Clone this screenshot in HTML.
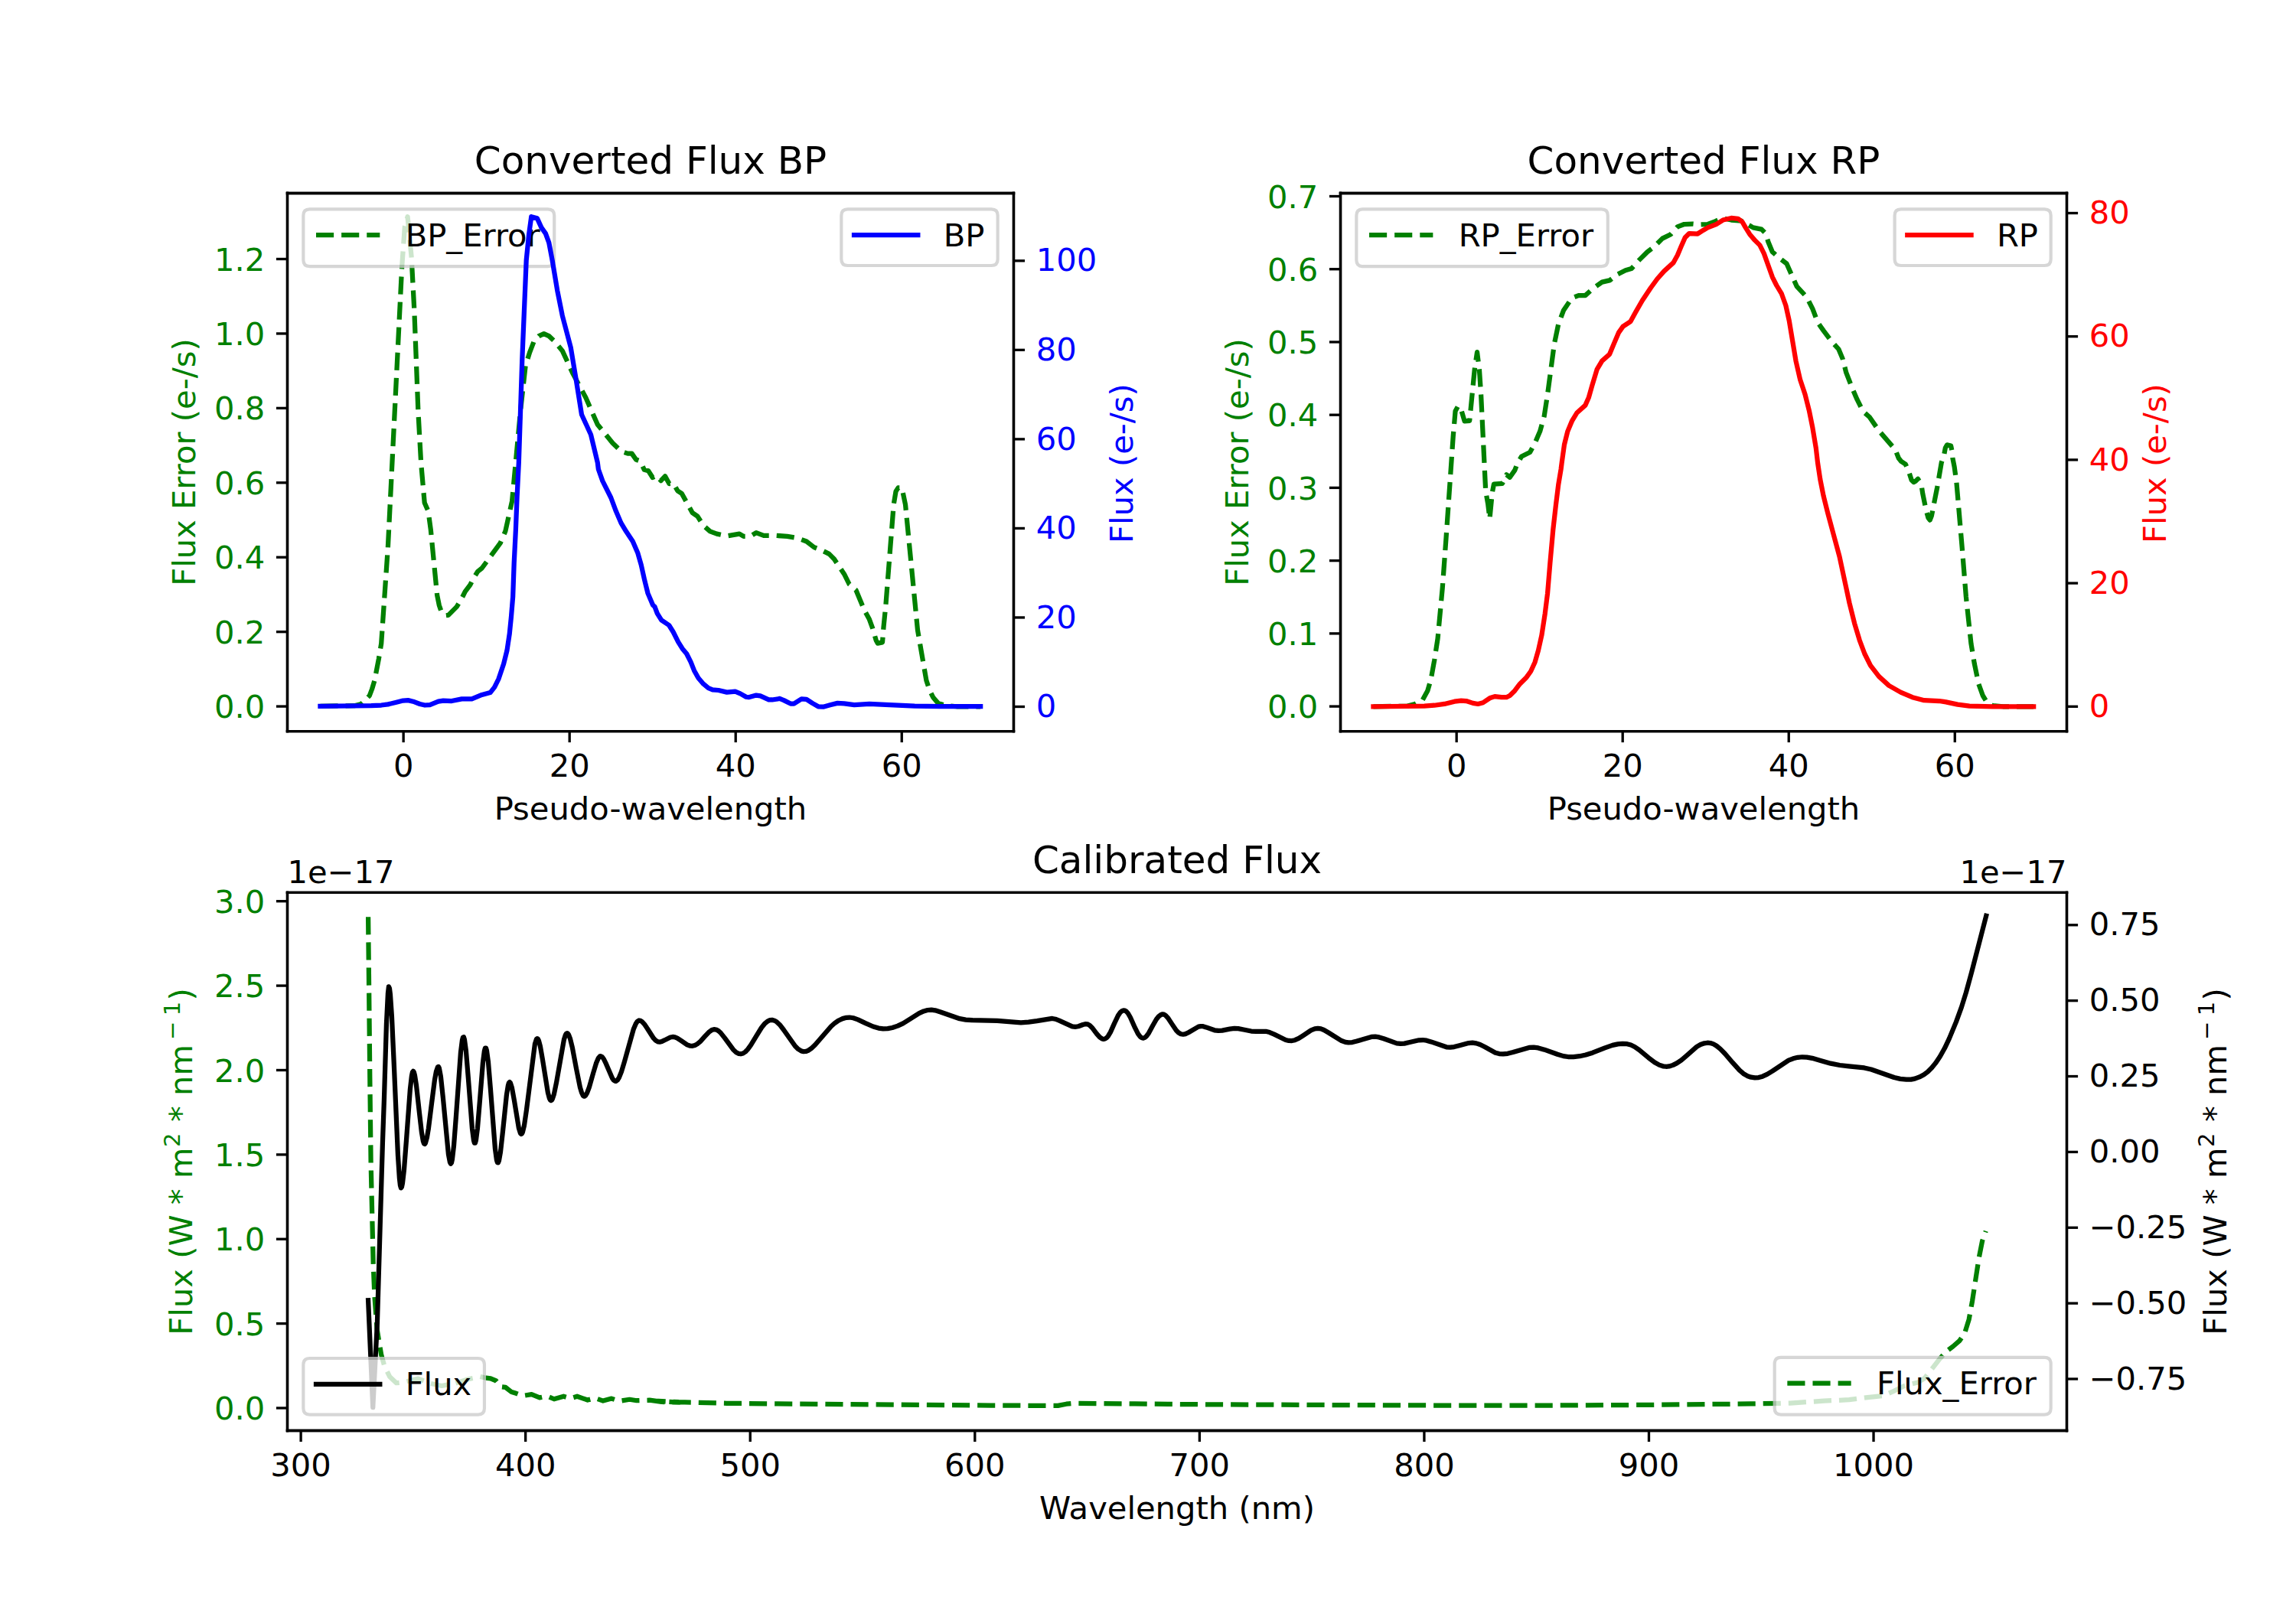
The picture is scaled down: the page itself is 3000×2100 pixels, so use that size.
<!DOCTYPE html>
<html><head><meta charset="utf-8"><title>Flux plots</title>
<style>html,body{margin:0;padding:0;background:#fff}svg{display:block}text{font-family:"DejaVu Sans","Liberation Sans",sans-serif}</style></head>
<body>
<svg width="3000" height="2100" viewBox="0 0 720 504">
 <defs>
  <style type="text/css">*{stroke-linejoin: round; stroke-linecap: butt}</style>
 </defs>
 <g id="figure_1" transform="translate(0.12 0.12)">
  <g id="patch_1">
   <path d="M 0 504 L 720 504 L 720 0 L 0 0 
z " style="fill: #ffffff"/>
  </g>
  <g id="axes_1">
   <g id="patch_2">
    <path d="M 90 229.210435 L 317.755102 229.210435 L 317.755102 60.48 L 90 60.48 
z " style="fill: #ffffff"/>
   </g>
   <g id="matplotlib.axis_1">
    <g id="xtick_1">
     <g id="line2d_1">
      <g>
       <path d="M 0 0 L 0 3.5 " transform="translate(126.396541 229.210435)" style="stroke: #000000; stroke-width: 0.8; stroke: #000000; stroke-width: 0.8"/>
      </g>
     </g>
     <g id="text_1">
      <text style="font-size: 10px; font-family: 'DejaVu Sans', 'Bitstream Vera Sans', 'Computer Modern Sans Serif', 'Lucida Grande', 'Verdana', 'Geneva', 'Lucid', 'Arial', 'Helvetica', 'Avant Garde', sans-serif; text-anchor: middle" x="126.396541" y="243.568872" transform="rotate(-0 126.396541 243.568872)">0</text>
     </g>
    </g>
    <g id="xtick_2">
     <g id="line2d_2">
      <g>
       <path d="M 0 0 L 0 3.5 " transform="translate(178.484615 229.210435)" style="stroke: #000000; stroke-width: 0.8; stroke: #000000; stroke-width: 0.8"/>
      </g>
     </g>
     <g id="text_2">
      <text style="font-size: 10px; font-family: 'DejaVu Sans', 'Bitstream Vera Sans', 'Computer Modern Sans Serif', 'Lucida Grande', 'Verdana', 'Geneva', 'Lucid', 'Arial', 'Helvetica', 'Avant Garde', sans-serif; text-anchor: middle" x="178.484615" y="243.568872" transform="rotate(-0 178.484615 243.568872)">20</text>
     </g>
    </g>
    <g id="xtick_3">
     <g id="line2d_3">
      <g>
       <path d="M 0 0 L 0 3.5 " transform="translate(230.572689 229.210435)" style="stroke: #000000; stroke-width: 0.8; stroke: #000000; stroke-width: 0.8"/>
      </g>
     </g>
     <g id="text_3">
      <text style="font-size: 10px; font-family: 'DejaVu Sans', 'Bitstream Vera Sans', 'Computer Modern Sans Serif', 'Lucida Grande', 'Verdana', 'Geneva', 'Lucid', 'Arial', 'Helvetica', 'Avant Garde', sans-serif; text-anchor: middle" x="230.572689" y="243.568872" transform="rotate(-0 230.572689 243.568872)">40</text>
     </g>
    </g>
    <g id="xtick_4">
     <g id="line2d_4">
      <g>
       <path d="M 0 0 L 0 3.5 " transform="translate(282.660762 229.210435)" style="stroke: #000000; stroke-width: 0.8; stroke: #000000; stroke-width: 0.8"/>
      </g>
     </g>
     <g id="text_4">
      <text style="font-size: 10px; font-family: 'DejaVu Sans', 'Bitstream Vera Sans', 'Computer Modern Sans Serif', 'Lucida Grande', 'Verdana', 'Geneva', 'Lucid', 'Arial', 'Helvetica', 'Avant Garde', sans-serif; text-anchor: middle" x="282.660762" y="243.568872" transform="rotate(-0 282.660762 243.568872)">60</text>
     </g>
    </g>
    <g id="text_5">
     <text style="font-size: 10px; font-family: 'DejaVu Sans', 'Bitstream Vera Sans', 'Computer Modern Sans Serif', 'Lucida Grande', 'Verdana', 'Geneva', 'Lucid', 'Arial', 'Helvetica', 'Avant Garde', sans-serif; text-anchor: middle" x="203.877551" y="257.030997" transform="rotate(-0 203.877551 257.030997)">Pseudo-wavelength</text>
    </g>
   </g>
   <g id="matplotlib.axis_2">
    <g id="ytick_1">
     <g id="line2d_5">
      <g>
       <path d="M 0 0 L -3.5 0 " transform="translate(90 221.424)" style="stroke: #000000; stroke-width: 0.8; stroke: #000000; stroke-width: 0.8"/>
      </g>
     </g>
     <g id="text_6">
      <text style="font-size: 10px; font-family: 'DejaVu Sans', 'Bitstream Vera Sans', 'Computer Modern Sans Serif', 'Lucida Grande', 'Verdana', 'Geneva', 'Lucid', 'Arial', 'Helvetica', 'Avant Garde', sans-serif; text-anchor: end; fill: #008000" x="83" y="225.055219" transform="rotate(-0 83 225.055219)">0.0</text>
     </g>
    </g>
    <g id="ytick_2">
     <g id="line2d_6">
      <g>
       <path d="M 0 0 L -3.5 0 " transform="translate(90 198.04)" style="stroke: #000000; stroke-width: 0.8; stroke: #000000; stroke-width: 0.8"/>
      </g>
     </g>
     <g id="text_7">
      <text style="font-size: 10px; font-family: 'DejaVu Sans', 'Bitstream Vera Sans', 'Computer Modern Sans Serif', 'Lucida Grande', 'Verdana', 'Geneva', 'Lucid', 'Arial', 'Helvetica', 'Avant Garde', sans-serif; text-anchor: end; fill: #008000" x="83" y="201.671219" transform="rotate(-0 83 201.671219)">0.2</text>
     </g>
    </g>
    <g id="ytick_3">
     <g id="line2d_7">
      <g>
       <path d="M 0 0 L -3.5 0 " transform="translate(90 174.656)" style="stroke: #000000; stroke-width: 0.8; stroke: #000000; stroke-width: 0.8"/>
      </g>
     </g>
     <g id="text_8">
      <text style="font-size: 10px; font-family: 'DejaVu Sans', 'Bitstream Vera Sans', 'Computer Modern Sans Serif', 'Lucida Grande', 'Verdana', 'Geneva', 'Lucid', 'Arial', 'Helvetica', 'Avant Garde', sans-serif; text-anchor: end; fill: #008000" x="83" y="178.287219" transform="rotate(-0 83 178.287219)">0.4</text>
     </g>
    </g>
    <g id="ytick_4">
     <g id="line2d_8">
      <g>
       <path d="M 0 0 L -3.5 0 " transform="translate(90 151.272)" style="stroke: #000000; stroke-width: 0.8; stroke: #000000; stroke-width: 0.8"/>
      </g>
     </g>
     <g id="text_9">
      <text style="font-size: 10px; font-family: 'DejaVu Sans', 'Bitstream Vera Sans', 'Computer Modern Sans Serif', 'Lucida Grande', 'Verdana', 'Geneva', 'Lucid', 'Arial', 'Helvetica', 'Avant Garde', sans-serif; text-anchor: end; fill: #008000" x="83" y="154.903219" transform="rotate(-0 83 154.903219)">0.6</text>
     </g>
    </g>
    <g id="ytick_5">
     <g id="line2d_9">
      <g>
       <path d="M 0 0 L -3.5 0 " transform="translate(90 127.888)" style="stroke: #000000; stroke-width: 0.8; stroke: #000000; stroke-width: 0.8"/>
      </g>
     </g>
     <g id="text_10">
      <text style="font-size: 10px; font-family: 'DejaVu Sans', 'Bitstream Vera Sans', 'Computer Modern Sans Serif', 'Lucida Grande', 'Verdana', 'Geneva', 'Lucid', 'Arial', 'Helvetica', 'Avant Garde', sans-serif; text-anchor: end; fill: #008000" x="83" y="131.519219" transform="rotate(-0 83 131.519219)">0.8</text>
     </g>
    </g>
    <g id="ytick_6">
     <g id="line2d_10">
      <g>
       <path d="M 0 0 L -3.5 0 " transform="translate(90 104.504)" style="stroke: #000000; stroke-width: 0.8; stroke: #000000; stroke-width: 0.8"/>
      </g>
     </g>
     <g id="text_11">
      <text style="font-size: 10px; font-family: 'DejaVu Sans', 'Bitstream Vera Sans', 'Computer Modern Sans Serif', 'Lucida Grande', 'Verdana', 'Geneva', 'Lucid', 'Arial', 'Helvetica', 'Avant Garde', sans-serif; text-anchor: end; fill: #008000" x="83" y="108.135219" transform="rotate(-0 83 108.135219)">1.0</text>
     </g>
    </g>
    <g id="ytick_7">
     <g id="line2d_11">
      <g>
       <path d="M 0 0 L -3.5 0 " transform="translate(90 81.12)" style="stroke: #000000; stroke-width: 0.8; stroke: #000000; stroke-width: 0.8"/>
      </g>
     </g>
     <g id="text_12">
      <text style="font-size: 10px; font-family: 'DejaVu Sans', 'Bitstream Vera Sans', 'Computer Modern Sans Serif', 'Lucida Grande', 'Verdana', 'Geneva', 'Lucid', 'Arial', 'Helvetica', 'Avant Garde', sans-serif; text-anchor: end; fill: #008000" x="83" y="84.751219" transform="rotate(-0 83 84.751219)">1.2</text>
     </g>
    </g>
    <g id="text_13">
     <text style="font-size: 10px; font-family: 'DejaVu Sans', 'Bitstream Vera Sans', 'Computer Modern Sans Serif', 'Lucida Grande', 'Verdana', 'Geneva', 'Lucid', 'Arial', 'Helvetica', 'Avant Garde', sans-serif; text-anchor: middle; fill: #008000" x="61.017187" y="144.845217" transform="rotate(-90 61.017187 144.845217)">Flux Error (e-/s)</text>
    </g>
   </g>
   <g id="line2d_12">
    <path d="M 100.305431 221.356896 L 111.031492 221.19916 L 113.134642 220.673373 L 115.763578 218.044436 L 116.552259 215.941287 L 117.34094 213.312351 L 118.655408 206.477115 L 119.444089 201.74503 L 121.547239 171.249366 L 122.861707 144.974021 L 125.911273 83.614642 L 126.805112 70.995746 L 127.69895 67.841022 L 128.908261 80.459918 L 129.802099 97.285112 L 131.01141 128.832351 L 131.905249 144.974021 L 133.009402 157.578895 L 134.166134 160.207832 L 134.954815 165.991492 L 136.952807 186.497198 L 137.583752 189.651921 L 138.267275 191.649913 L 139.686901 192.911803 L 140.475582 192.806645 L 143.104518 190.177709 L 144.68188 187.548772 L 145.733455 185.445623 L 147.310817 183.342474 L 148.362392 181.239325 L 149.67686 179.136175 L 150.991328 178.084601 L 156.774989 170.197791 L 158.352351 166.51728 L 160.4555 157.053108 L 161.769968 143.028608 L 163.084436 128.832351 L 164.661798 114.636093 L 165.976267 110.429795 L 167.290735 107.012177 L 168.868097 105.277079 L 170.445459 104.540977 L 172.022821 105.277079 L 173.600183 106.749283 L 176.229119 109.904007 L 179.383843 116.739242 L 183.590141 124.626052 L 187.270653 133.038649 L 192.002738 138.822309 L 194.088 140.832 L 195.408 141.672 L 196.704 142.104 L 198 142.104 L 199.32 144 L 200.616 144.48 L 201.912 147.192 L 203.208 147.552 L 204.528 149.64 L 205.824 148.968 L 207.12 150.648 L 208.44 149.232 L 209.736 151.584 L 211.032 151.44 L 212.352 153.792 L 213.648 154.632 L 217.030215 160.733619 L 218.607576 161.785194 L 220.447832 164.677024 L 222.550981 166.51728 L 224.654131 167.305961 L 227.808854 167.989484 L 231.752259 167.305961 L 233.066728 168.094642 L 235.169877 168.094642 L 237.010132 166.93791 L 239.376175 167.831748 L 243.056686 167.831748 L 246.737198 168.094642 L 249.891921 168.620429 L 252.783752 169.672004 L 255.149795 171.512259 L 257.778731 172.563834 L 259.88188 173.615408 L 261.459242 175.19277 L 264.613966 179.924856 L 266.191328 183.07958 L 268.294477 184.919836 L 270.923414 191.229283 L 272.500776 194.121114 L 273.552351 197.012944 L 274.603925 200.693455 L 275.129712 201.639872 L 276.601917 201.3244 L 276.969968 196.487157 L 277.653492 189.651921 L 280.124692 158.104683 L 280.808215 154.003542 L 281.544318 152.84681 L 282.70105 152.84681 L 283.805203 158.104683 L 287.64345 197.538731 L 290.377545 213.312351 L 291.429119 216.467074 L 292.480694 218.570224 L 294.058056 220.410479 L 296.686992 221.19916 L 299.841716 221.462054 L 307.360475 221.462054 L 307.360475 221.462054 " clip-path="url(#p5c37833ab2)" style="fill: none; stroke-dasharray: 5.55,2.4; stroke-dashoffset: 0; stroke: #008000; stroke-width: 1.5"/>
   </g>
   <g id="patch_3">
    <path d="M 90 229.210435 L 90 60.48 " style="fill: none; stroke: #000000; stroke-width: 0.8; stroke-linejoin: miter; stroke-linecap: square"/>
   </g>
   <g id="patch_4">
    <path d="M 317.755102 229.210435 L 317.755102 60.48 " style="fill: none; stroke: #000000; stroke-width: 0.8; stroke-linejoin: miter; stroke-linecap: square"/>
   </g>
   <g id="patch_5">
    <path d="M 90 229.210435 L 317.755102 229.210435 " style="fill: none; stroke: #000000; stroke-width: 0.8; stroke-linejoin: miter; stroke-linecap: square"/>
   </g>
   <g id="patch_6">
    <path d="M 90 60.48 L 317.755102 60.48 " style="fill: none; stroke: #000000; stroke-width: 0.8; stroke-linejoin: miter; stroke-linecap: square"/>
   </g>
   <g id="text_14">
    <text style="font-size: 12px; font-family: 'DejaVu Sans', 'Bitstream Vera Sans', 'Computer Modern Sans Serif', 'Lucida Grande', 'Verdana', 'Geneva', 'Lucid', 'Arial', 'Helvetica', 'Avant Garde', sans-serif; text-anchor: middle" x="203.877551" y="54.48" transform="rotate(-0 203.877551 54.48)">Converted Flux BP</text>
   </g>
   <g id="legend_1">
    <g id="patch_7">
     <path d="M 97.000000 83.436250 L 171.692938 83.436250 Q 173.692938 83.436250 173.692938 81.436250 L 173.692938 67.480000 Q 173.692938 65.480000 171.692938 65.480000 L 97.000000 65.480000 Q 95.000000 65.480000 95.000000 67.480000 L 95.000000 81.436250 Q 95.000000 83.436250 97.000000 83.436250 z" style="fill: #ffffff; opacity: 0.8; stroke: #cccccc; stroke-linejoin: miter"/>
    </g>
    <g id="line2d_13">
     <path d="M 99 73.578438 L 109 73.578438 L 119 73.578438 " style="fill: none; stroke-dasharray: 5.55,2.4; stroke-dashoffset: 0; stroke: #008000; stroke-width: 1.5"/>
    </g>
    <g id="text_15">
     <text style="font-size: 10px; font-family: 'DejaVu Sans', 'Bitstream Vera Sans', 'Computer Modern Sans Serif', 'Lucida Grande', 'Verdana', 'Geneva', 'Lucid', 'Arial', 'Helvetica', 'Avant Garde', sans-serif; text-anchor: start" x="127" y="77.078438" transform="rotate(-0 127 77.078438)">BP_Error</text>
    </g>
   </g>
  </g>
  <g id="axes_2">
   <g id="patch_8">
    <path d="M 420.244898 229.210435 L 648 229.210435 L 648 60.48 L 420.244898 60.48 
z " style="fill: #ffffff"/>
   </g>
   <g id="matplotlib.axis_3">
    <g id="xtick_5">
     <g id="line2d_14">
      <g>
       <path d="M 0 0 L 0 3.5 " transform="translate(456.641439 229.210435)" style="stroke: #000000; stroke-width: 0.8; stroke: #000000; stroke-width: 0.8"/>
      </g>
     </g>
     <g id="text_16">
      <text style="font-size: 10px; font-family: 'DejaVu Sans', 'Bitstream Vera Sans', 'Computer Modern Sans Serif', 'Lucida Grande', 'Verdana', 'Geneva', 'Lucid', 'Arial', 'Helvetica', 'Avant Garde', sans-serif; text-anchor: middle" x="456.641439" y="243.568872" transform="rotate(-0 456.641439 243.568872)">0</text>
     </g>
    </g>
    <g id="xtick_6">
     <g id="line2d_15">
      <g>
       <path d="M 0 0 L 0 3.5 " transform="translate(508.729513 229.210435)" style="stroke: #000000; stroke-width: 0.8; stroke: #000000; stroke-width: 0.8"/>
      </g>
     </g>
     <g id="text_17">
      <text style="font-size: 10px; font-family: 'DejaVu Sans', 'Bitstream Vera Sans', 'Computer Modern Sans Serif', 'Lucida Grande', 'Verdana', 'Geneva', 'Lucid', 'Arial', 'Helvetica', 'Avant Garde', sans-serif; text-anchor: middle" x="508.729513" y="243.568872" transform="rotate(-0 508.729513 243.568872)">20</text>
     </g>
    </g>
    <g id="xtick_7">
     <g id="line2d_16">
      <g>
       <path d="M 0 0 L 0 3.5 " transform="translate(560.817587 229.210435)" style="stroke: #000000; stroke-width: 0.8; stroke: #000000; stroke-width: 0.8"/>
      </g>
     </g>
     <g id="text_18">
      <text style="font-size: 10px; font-family: 'DejaVu Sans', 'Bitstream Vera Sans', 'Computer Modern Sans Serif', 'Lucida Grande', 'Verdana', 'Geneva', 'Lucid', 'Arial', 'Helvetica', 'Avant Garde', sans-serif; text-anchor: middle" x="560.817587" y="243.568872" transform="rotate(-0 560.817587 243.568872)">40</text>
     </g>
    </g>
    <g id="xtick_8">
     <g id="line2d_17">
      <g>
       <path d="M 0 0 L 0 3.5 " transform="translate(612.90566 229.210435)" style="stroke: #000000; stroke-width: 0.8; stroke: #000000; stroke-width: 0.8"/>
      </g>
     </g>
     <g id="text_19">
      <text style="font-size: 10px; font-family: 'DejaVu Sans', 'Bitstream Vera Sans', 'Computer Modern Sans Serif', 'Lucida Grande', 'Verdana', 'Geneva', 'Lucid', 'Arial', 'Helvetica', 'Avant Garde', sans-serif; text-anchor: middle" x="612.90566" y="243.568872" transform="rotate(-0 612.90566 243.568872)">60</text>
     </g>
    </g>
    <g id="text_20">
     <text style="font-size: 10px; font-family: 'DejaVu Sans', 'Bitstream Vera Sans', 'Computer Modern Sans Serif', 'Lucida Grande', 'Verdana', 'Geneva', 'Lucid', 'Arial', 'Helvetica', 'Avant Garde', sans-serif; text-anchor: middle" x="534.122449" y="257.030997" transform="rotate(-0 534.122449 257.030997)">Pseudo-wavelength</text>
    </g>
   </g>
   <g id="matplotlib.axis_4">
    <g id="ytick_8">
     <g id="line2d_18">
      <g>
       <path d="M 0 0 L -3.5 0 " transform="translate(420.244898 221.424)" style="stroke: #000000; stroke-width: 0.8; stroke: #000000; stroke-width: 0.8"/>
      </g>
     </g>
     <g id="text_21">
      <text style="font-size: 10px; font-family: 'DejaVu Sans', 'Bitstream Vera Sans', 'Computer Modern Sans Serif', 'Lucida Grande', 'Verdana', 'Geneva', 'Lucid', 'Arial', 'Helvetica', 'Avant Garde', sans-serif; text-anchor: end; fill: #008000" x="413.244898" y="225.055219" transform="rotate(-0 413.244898 225.055219)">0.0</text>
     </g>
    </g>
    <g id="ytick_9">
     <g id="line2d_19">
      <g>
       <path d="M 0 0 L -3.5 0 " transform="translate(420.244898 198.569143)" style="stroke: #000000; stroke-width: 0.8; stroke: #000000; stroke-width: 0.8"/>
      </g>
     </g>
     <g id="text_22">
      <text style="font-size: 10px; font-family: 'DejaVu Sans', 'Bitstream Vera Sans', 'Computer Modern Sans Serif', 'Lucida Grande', 'Verdana', 'Geneva', 'Lucid', 'Arial', 'Helvetica', 'Avant Garde', sans-serif; text-anchor: end; fill: #008000" x="413.244898" y="202.200362" transform="rotate(-0 413.244898 202.200362)">0.1</text>
     </g>
    </g>
    <g id="ytick_10">
     <g id="line2d_20">
      <g>
       <path d="M 0 0 L -3.5 0 " transform="translate(420.244898 175.714286)" style="stroke: #000000; stroke-width: 0.8; stroke: #000000; stroke-width: 0.8"/>
      </g>
     </g>
     <g id="text_23">
      <text style="font-size: 10px; font-family: 'DejaVu Sans', 'Bitstream Vera Sans', 'Computer Modern Sans Serif', 'Lucida Grande', 'Verdana', 'Geneva', 'Lucid', 'Arial', 'Helvetica', 'Avant Garde', sans-serif; text-anchor: end; fill: #008000" x="413.244898" y="179.345504" transform="rotate(-0 413.244898 179.345504)">0.2</text>
     </g>
    </g>
    <g id="ytick_11">
     <g id="line2d_21">
      <g>
       <path d="M 0 0 L -3.5 0 " transform="translate(420.244898 152.859429)" style="stroke: #000000; stroke-width: 0.8; stroke: #000000; stroke-width: 0.8"/>
      </g>
     </g>
     <g id="text_24">
      <text style="font-size: 10px; font-family: 'DejaVu Sans', 'Bitstream Vera Sans', 'Computer Modern Sans Serif', 'Lucida Grande', 'Verdana', 'Geneva', 'Lucid', 'Arial', 'Helvetica', 'Avant Garde', sans-serif; text-anchor: end; fill: #008000" x="413.244898" y="156.490647" transform="rotate(-0 413.244898 156.490647)">0.3</text>
     </g>
    </g>
    <g id="ytick_12">
     <g id="line2d_22">
      <g>
       <path d="M 0 0 L -3.5 0 " transform="translate(420.244898 130.004571)" style="stroke: #000000; stroke-width: 0.8; stroke: #000000; stroke-width: 0.8"/>
      </g>
     </g>
     <g id="text_25">
      <text style="font-size: 10px; font-family: 'DejaVu Sans', 'Bitstream Vera Sans', 'Computer Modern Sans Serif', 'Lucida Grande', 'Verdana', 'Geneva', 'Lucid', 'Arial', 'Helvetica', 'Avant Garde', sans-serif; text-anchor: end; fill: #008000" x="413.244898" y="133.63579" transform="rotate(-0 413.244898 133.63579)">0.4</text>
     </g>
    </g>
    <g id="ytick_13">
     <g id="line2d_23">
      <g>
       <path d="M 0 0 L -3.5 0 " transform="translate(420.244898 107.149714)" style="stroke: #000000; stroke-width: 0.8; stroke: #000000; stroke-width: 0.8"/>
      </g>
     </g>
     <g id="text_26">
      <text style="font-size: 10px; font-family: 'DejaVu Sans', 'Bitstream Vera Sans', 'Computer Modern Sans Serif', 'Lucida Grande', 'Verdana', 'Geneva', 'Lucid', 'Arial', 'Helvetica', 'Avant Garde', sans-serif; text-anchor: end; fill: #008000" x="413.244898" y="110.780933" transform="rotate(-0 413.244898 110.780933)">0.5</text>
     </g>
    </g>
    <g id="ytick_14">
     <g id="line2d_24">
      <g>
       <path d="M 0 0 L -3.5 0 " transform="translate(420.244898 84.294857)" style="stroke: #000000; stroke-width: 0.8; stroke: #000000; stroke-width: 0.8"/>
      </g>
     </g>
     <g id="text_27">
      <text style="font-size: 10px; font-family: 'DejaVu Sans', 'Bitstream Vera Sans', 'Computer Modern Sans Serif', 'Lucida Grande', 'Verdana', 'Geneva', 'Lucid', 'Arial', 'Helvetica', 'Avant Garde', sans-serif; text-anchor: end; fill: #008000" x="413.244898" y="87.926076" transform="rotate(-0 413.244898 87.926076)">0.6</text>
     </g>
    </g>
    <g id="ytick_15">
     <g id="line2d_25">
      <g>
       <path d="M 0 0 L -3.5 0 " transform="translate(420.244898 61.44)" style="stroke: #000000; stroke-width: 0.8; stroke: #000000; stroke-width: 0.8"/>
      </g>
     </g>
     <g id="text_28">
      <text style="font-size: 10px; font-family: 'DejaVu Sans', 'Bitstream Vera Sans', 'Computer Modern Sans Serif', 'Lucida Grande', 'Verdana', 'Geneva', 'Lucid', 'Arial', 'Helvetica', 'Avant Garde', sans-serif; text-anchor: end; fill: #008000" x="413.244898" y="65.071219" transform="rotate(-0 413.244898 65.071219)">0.7</text>
     </g>
    </g>
    <g id="text_29">
     <text style="font-size: 10px; font-family: 'DejaVu Sans', 'Bitstream Vera Sans', 'Computer Modern Sans Serif', 'Lucida Grande', 'Verdana', 'Geneva', 'Lucid', 'Arial', 'Helvetica', 'Avant Garde', sans-serif; text-anchor: middle; fill: #008000" x="391.262085" y="144.845217" transform="rotate(-90 391.262085 144.845217)">Flux Error (e-/s)</text>
    </g>
   </g>
   <g id="line2d_26">
    <path d="M 430.545431 221.462054 L 441.271492 221.304318 L 443.637535 220.673373 L 446.003578 219.358905 L 447.58094 216.467074 L 448.632515 212.786563 L 449.684089 207.002903 L 450.735664 200.167668 L 452.207869 184.394048 L 453.364601 168.620429 L 455.572907 136.71916 L 456.256431 128.832351 L 457.045112 127.360146 L 457.833793 127.517882 L 459.148261 131.987074 L 460.725623 131.829338 L 462.302985 115.687668 L 463.091666 110.324637 L 463.775189 115.687668 L 464.300977 123.574477 L 465.773181 153.898384 L 466.509283 158.104683 L 467.035071 162.573875 L 467.823752 154.424172 L 468.349539 151.690078 L 470.978476 151.532341 L 472.292944 148.745669 L 473.344518 149.586928 L 474.92188 147.326043 L 475.710561 145.222894 L 477.02503 143.028608 L 479.653966 141.71414 L 481.231328 138.822309 L 482.80869 135.141798 L 484.123158 130.409712 L 485.174733 123.574477 L 487.277882 107.800858 L 488.592351 101.49141 L 490.169712 97.285112 L 492.798649 93.341707 L 494.901798 92.553026 L 497.004948 92.553026 L 499.633884 90.186983 L 502.262821 88.346728 L 504.628864 87.82094 L 506.994906 85.980685 L 509.623843 84.666216 L 511.464099 84.140429 L 513.830141 81.511492 L 516.459078 78.882556 L 518.562227 77.305194 L 521.191164 74.676257 L 523.8201 73.361789 L 525.92325 70.995746 L 528.026399 70.207065 L 530.655335 70.101908 L 533.021378 70.312223 L 535.44 70.207065 L 537.543149 69.418384 L 539.909192 68.261652 L 542.801022 68.892597 L 545.955746 69.155491 L 549.636257 71.25864 L 552.265194 71.784427 L 553.579662 73.098895 L 554.368343 75.727832 L 555.682812 78.882556 L 557.785961 80.722812 L 560.152004 82.563067 L 563.306728 89.661196 L 566.461451 93.078813 L 568.301707 96.759325 L 569.879069 100.965623 L 571.719325 103.59456 L 574.085367 106.749283 L 576.45141 109.37822 L 577.765879 112.532944 L 578.817453 116.739242 L 580.657709 121.471328 L 582.235071 125.151839 L 584.075326 128.832351 L 586.137514 130.675028 L 589.093841 134.97514 L 594.200224 140.887794 L 595.275252 143.575364 L 596.081523 144.596641 L 597.425308 145.456663 L 598.365957 147.47234 L 599.306607 150.428667 L 599.978499 151.10056 L 600.516013 150.831803 L 601.322284 150.079283 L 602.397312 151.906831 L 602.800448 154.594401 L 603.875476 159.835162 L 604.547368 162.253975 L 605.084882 162.979619 L 605.622396 161.582083 L 607.369317 152.713102 L 608.713102 144.919149 L 609.519373 142.500336 L 609.922508 140.35028 L 610.460022 139.40963 L 611.669429 139.678387 L 612.072564 141.694065 L 612.206943 143.575364 L 612.744457 146.262934 L 613.416349 151.10056 L 615.16327 171.526092 L 616.411246 187.022985 L 617.988608 201.74503 L 619.040183 208.054477 L 620.354651 214.363925 L 621.669119 218.044436 L 622.983587 220.147586 L 624.823843 221.19916 L 627.978567 221.462054 L 637.600475 221.462054 L 637.600475 221.462054 " clip-path="url(#p409623901d)" style="fill: none; stroke-dasharray: 5.55,2.4; stroke-dashoffset: 0; stroke: #008000; stroke-width: 1.5"/>
   </g>
   <g id="patch_9">
    <path d="M 420.244898 229.210435 L 420.244898 60.48 " style="fill: none; stroke: #000000; stroke-width: 0.8; stroke-linejoin: miter; stroke-linecap: square"/>
   </g>
   <g id="patch_10">
    <path d="M 648 229.210435 L 648 60.48 " style="fill: none; stroke: #000000; stroke-width: 0.8; stroke-linejoin: miter; stroke-linecap: square"/>
   </g>
   <g id="patch_11">
    <path d="M 420.244898 229.210435 L 648 229.210435 " style="fill: none; stroke: #000000; stroke-width: 0.8; stroke-linejoin: miter; stroke-linecap: square"/>
   </g>
   <g id="patch_12">
    <path d="M 420.244898 60.48 L 648 60.48 " style="fill: none; stroke: #000000; stroke-width: 0.8; stroke-linejoin: miter; stroke-linecap: square"/>
   </g>
   <g id="text_30">
    <text style="font-size: 12px; font-family: 'DejaVu Sans', 'Bitstream Vera Sans', 'Computer Modern Sans Serif', 'Lucida Grande', 'Verdana', 'Geneva', 'Lucid', 'Arial', 'Helvetica', 'Avant Garde', sans-serif; text-anchor: middle" x="534.122449" y="54.48" transform="rotate(-0 534.122449 54.48)">Converted Flux RP</text>
   </g>
   <g id="legend_2">
    <g id="patch_13">
     <path d="M 427.244898 83.436250 L 502.073335 83.436250 Q 504.073335 83.436250 504.073335 81.436250 L 504.073335 67.480000 Q 504.073335 65.480000 502.073335 65.480000 L 427.244898 65.480000 Q 425.244898 65.480000 425.244898 67.480000 L 425.244898 81.436250 Q 425.244898 83.436250 427.244898 83.436250 z" style="fill: #ffffff; opacity: 0.8; stroke: #cccccc; stroke-linejoin: miter"/>
    </g>
    <g id="line2d_27">
     <path d="M 429.244898 73.578438 L 439.244898 73.578438 L 449.244898 73.578438 " style="fill: none; stroke-dasharray: 5.55,2.4; stroke-dashoffset: 0; stroke: #008000; stroke-width: 1.5"/>
    </g>
    <g id="text_31">
     <text style="font-size: 10px; font-family: 'DejaVu Sans', 'Bitstream Vera Sans', 'Computer Modern Sans Serif', 'Lucida Grande', 'Verdana', 'Geneva', 'Lucid', 'Arial', 'Helvetica', 'Avant Garde', sans-serif; text-anchor: start" x="457.244898" y="77.078438" transform="rotate(-0 457.244898 77.078438)">RP_Error</text>
    </g>
   </g>
  </g>
  <g id="axes_3">
   <g id="patch_14">
    <path d="M 90 448.56 L 648 448.56 L 648 279.829565 L 90 279.829565 
z " style="fill: #ffffff"/>
   </g>
   <g id="matplotlib.axis_5">
    <g id="xtick_9">
     <g id="line2d_28">
      <g>
       <path d="M 0 0 L 0 3.5 " transform="translate(94.227273 448.56)" style="stroke: #000000; stroke-width: 0.8; stroke: #000000; stroke-width: 0.8"/>
      </g>
     </g>
     <g id="text_32">
      <text style="font-size: 10px; font-family: 'DejaVu Sans', 'Bitstream Vera Sans', 'Computer Modern Sans Serif', 'Lucida Grande', 'Verdana', 'Geneva', 'Lucid', 'Arial', 'Helvetica', 'Avant Garde', sans-serif; text-anchor: middle" x="94.227273" y="462.918437" transform="rotate(-0 94.227273 462.918437)">300</text>
     </g>
    </g>
    <g id="xtick_10">
     <g id="line2d_29">
      <g>
       <path d="M 0 0 L 0 3.5 " transform="translate(164.681818 448.56)" style="stroke: #000000; stroke-width: 0.8; stroke: #000000; stroke-width: 0.8"/>
      </g>
     </g>
     <g id="text_33">
      <text style="font-size: 10px; font-family: 'DejaVu Sans', 'Bitstream Vera Sans', 'Computer Modern Sans Serif', 'Lucida Grande', 'Verdana', 'Geneva', 'Lucid', 'Arial', 'Helvetica', 'Avant Garde', sans-serif; text-anchor: middle" x="164.681818" y="462.918437" transform="rotate(-0 164.681818 462.918437)">400</text>
     </g>
    </g>
    <g id="xtick_11">
     <g id="line2d_30">
      <g>
       <path d="M 0 0 L 0 3.5 " transform="translate(235.136364 448.56)" style="stroke: #000000; stroke-width: 0.8; stroke: #000000; stroke-width: 0.8"/>
      </g>
     </g>
     <g id="text_34">
      <text style="font-size: 10px; font-family: 'DejaVu Sans', 'Bitstream Vera Sans', 'Computer Modern Sans Serif', 'Lucida Grande', 'Verdana', 'Geneva', 'Lucid', 'Arial', 'Helvetica', 'Avant Garde', sans-serif; text-anchor: middle" x="235.136364" y="462.918437" transform="rotate(-0 235.136364 462.918437)">500</text>
     </g>
    </g>
    <g id="xtick_12">
     <g id="line2d_31">
      <g>
       <path d="M 0 0 L 0 3.5 " transform="translate(305.590909 448.56)" style="stroke: #000000; stroke-width: 0.8; stroke: #000000; stroke-width: 0.8"/>
      </g>
     </g>
     <g id="text_35">
      <text style="font-size: 10px; font-family: 'DejaVu Sans', 'Bitstream Vera Sans', 'Computer Modern Sans Serif', 'Lucida Grande', 'Verdana', 'Geneva', 'Lucid', 'Arial', 'Helvetica', 'Avant Garde', sans-serif; text-anchor: middle" x="305.590909" y="462.918437" transform="rotate(-0 305.590909 462.918437)">600</text>
     </g>
    </g>
    <g id="xtick_13">
     <g id="line2d_32">
      <g>
       <path d="M 0 0 L 0 3.5 " transform="translate(376.045455 448.56)" style="stroke: #000000; stroke-width: 0.8; stroke: #000000; stroke-width: 0.8"/>
      </g>
     </g>
     <g id="text_36">
      <text style="font-size: 10px; font-family: 'DejaVu Sans', 'Bitstream Vera Sans', 'Computer Modern Sans Serif', 'Lucida Grande', 'Verdana', 'Geneva', 'Lucid', 'Arial', 'Helvetica', 'Avant Garde', sans-serif; text-anchor: middle" x="376.045455" y="462.918437" transform="rotate(-0 376.045455 462.918437)">700</text>
     </g>
    </g>
    <g id="xtick_14">
     <g id="line2d_33">
      <g>
       <path d="M 0 0 L 0 3.5 " transform="translate(446.5 448.56)" style="stroke: #000000; stroke-width: 0.8; stroke: #000000; stroke-width: 0.8"/>
      </g>
     </g>
     <g id="text_37">
      <text style="font-size: 10px; font-family: 'DejaVu Sans', 'Bitstream Vera Sans', 'Computer Modern Sans Serif', 'Lucida Grande', 'Verdana', 'Geneva', 'Lucid', 'Arial', 'Helvetica', 'Avant Garde', sans-serif; text-anchor: middle" x="446.5" y="462.918437" transform="rotate(-0 446.5 462.918437)">800</text>
     </g>
    </g>
    <g id="xtick_15">
     <g id="line2d_34">
      <g>
       <path d="M 0 0 L 0 3.5 " transform="translate(516.954545 448.56)" style="stroke: #000000; stroke-width: 0.8; stroke: #000000; stroke-width: 0.8"/>
      </g>
     </g>
     <g id="text_38">
      <text style="font-size: 10px; font-family: 'DejaVu Sans', 'Bitstream Vera Sans', 'Computer Modern Sans Serif', 'Lucida Grande', 'Verdana', 'Geneva', 'Lucid', 'Arial', 'Helvetica', 'Avant Garde', sans-serif; text-anchor: middle" x="516.954545" y="462.918437" transform="rotate(-0 516.954545 462.918437)">900</text>
     </g>
    </g>
    <g id="xtick_16">
     <g id="line2d_35">
      <g>
       <path d="M 0 0 L 0 3.5 " transform="translate(587.409091 448.56)" style="stroke: #000000; stroke-width: 0.8; stroke: #000000; stroke-width: 0.8"/>
      </g>
     </g>
     <g id="text_39">
      <text style="font-size: 10px; font-family: 'DejaVu Sans', 'Bitstream Vera Sans', 'Computer Modern Sans Serif', 'Lucida Grande', 'Verdana', 'Geneva', 'Lucid', 'Arial', 'Helvetica', 'Avant Garde', sans-serif; text-anchor: middle" x="587.409091" y="462.918437" transform="rotate(-0 587.409091 462.918437)">1000</text>
     </g>
    </g>
    <g id="text_40">
     <text style="font-size: 10px; font-family: 'DejaVu Sans', 'Bitstream Vera Sans', 'Computer Modern Sans Serif', 'Lucida Grande', 'Verdana', 'Geneva', 'Lucid', 'Arial', 'Helvetica', 'Avant Garde', sans-serif; text-anchor: middle" x="369" y="476.380562" transform="rotate(-0 369 476.380562)">Wavelength (nm)</text>
    </g>
   </g>
   <g id="matplotlib.axis_6">
    <g id="ytick_16">
     <g id="line2d_36">
      <g>
       <path d="M 0 0 L -3.5 0 " transform="translate(90 441.48)" style="stroke: #000000; stroke-width: 0.8; stroke: #000000; stroke-width: 0.8"/>
      </g>
     </g>
     <g id="text_41">
      <text style="font-size: 10px; font-family: 'DejaVu Sans', 'Bitstream Vera Sans', 'Computer Modern Sans Serif', 'Lucida Grande', 'Verdana', 'Geneva', 'Lucid', 'Arial', 'Helvetica', 'Avant Garde', sans-serif; text-anchor: end; fill: #008000" x="83" y="445.111219" transform="rotate(-0 83 445.111219)">0.0</text>
     </g>
    </g>
    <g id="ytick_17">
     <g id="line2d_37">
      <g>
       <path d="M 0 0 L -3.5 0 " transform="translate(90 414.988)" style="stroke: #000000; stroke-width: 0.8; stroke: #000000; stroke-width: 0.8"/>
      </g>
     </g>
     <g id="text_42">
      <text style="font-size: 10px; font-family: 'DejaVu Sans', 'Bitstream Vera Sans', 'Computer Modern Sans Serif', 'Lucida Grande', 'Verdana', 'Geneva', 'Lucid', 'Arial', 'Helvetica', 'Avant Garde', sans-serif; text-anchor: end; fill: #008000" x="83" y="418.619219" transform="rotate(-0 83 418.619219)">0.5</text>
     </g>
    </g>
    <g id="ytick_18">
     <g id="line2d_38">
      <g>
       <path d="M 0 0 L -3.5 0 " transform="translate(90 388.496)" style="stroke: #000000; stroke-width: 0.8; stroke: #000000; stroke-width: 0.8"/>
      </g>
     </g>
     <g id="text_43">
      <text style="font-size: 10px; font-family: 'DejaVu Sans', 'Bitstream Vera Sans', 'Computer Modern Sans Serif', 'Lucida Grande', 'Verdana', 'Geneva', 'Lucid', 'Arial', 'Helvetica', 'Avant Garde', sans-serif; text-anchor: end; fill: #008000" x="83" y="392.127219" transform="rotate(-0 83 392.127219)">1.0</text>
     </g>
    </g>
    <g id="ytick_19">
     <g id="line2d_39">
      <g>
       <path d="M 0 0 L -3.5 0 " transform="translate(90 362.004)" style="stroke: #000000; stroke-width: 0.8; stroke: #000000; stroke-width: 0.8"/>
      </g>
     </g>
     <g id="text_44">
      <text style="font-size: 10px; font-family: 'DejaVu Sans', 'Bitstream Vera Sans', 'Computer Modern Sans Serif', 'Lucida Grande', 'Verdana', 'Geneva', 'Lucid', 'Arial', 'Helvetica', 'Avant Garde', sans-serif; text-anchor: end; fill: #008000" x="83" y="365.635219" transform="rotate(-0 83 365.635219)">1.5</text>
     </g>
    </g>
    <g id="ytick_20">
     <g id="line2d_40">
      <g>
       <path d="M 0 0 L -3.5 0 " transform="translate(90 335.512)" style="stroke: #000000; stroke-width: 0.8; stroke: #000000; stroke-width: 0.8"/>
      </g>
     </g>
     <g id="text_45">
      <text style="font-size: 10px; font-family: 'DejaVu Sans', 'Bitstream Vera Sans', 'Computer Modern Sans Serif', 'Lucida Grande', 'Verdana', 'Geneva', 'Lucid', 'Arial', 'Helvetica', 'Avant Garde', sans-serif; text-anchor: end; fill: #008000" x="83" y="339.143219" transform="rotate(-0 83 339.143219)">2.0</text>
     </g>
    </g>
    <g id="ytick_21">
     <g id="line2d_41">
      <g>
       <path d="M 0 0 L -3.5 0 " transform="translate(90 309.02)" style="stroke: #000000; stroke-width: 0.8; stroke: #000000; stroke-width: 0.8"/>
      </g>
     </g>
     <g id="text_46">
      <text style="font-size: 10px; font-family: 'DejaVu Sans', 'Bitstream Vera Sans', 'Computer Modern Sans Serif', 'Lucida Grande', 'Verdana', 'Geneva', 'Lucid', 'Arial', 'Helvetica', 'Avant Garde', sans-serif; text-anchor: end; fill: #008000" x="83" y="312.651219" transform="rotate(-0 83 312.651219)">2.5</text>
     </g>
    </g>
    <g id="ytick_22">
     <g id="line2d_42">
      <g>
       <path d="M 0 0 L -3.5 0 " transform="translate(90 282.528)" style="stroke: #000000; stroke-width: 0.8; stroke: #000000; stroke-width: 0.8"/>
      </g>
     </g>
     <g id="text_47">
      <text style="font-size: 10px; font-family: 'DejaVu Sans', 'Bitstream Vera Sans', 'Computer Modern Sans Serif', 'Lucida Grande', 'Verdana', 'Geneva', 'Lucid', 'Arial', 'Helvetica', 'Avant Garde', sans-serif; text-anchor: end; fill: #008000" x="83" y="286.159219" transform="rotate(-0 83 286.159219)">3.0</text>
     </g>
    </g>
    <g id="text_48">
     <g style="fill: #008000" transform="translate(61.017187 418.594783) rotate(-90)">
      <text style="white-space: pre; font-kerning: none"><tspan x="0" y="-0.976562" style="font-size: 10px; font-family: 'DejaVu Sans'; fill: #008000">Flux (W * m</tspan><tspan x="58.948242" y="-4.804688" style="font-size: 7px; font-family: 'DejaVu Sans'; fill: #008000">2</tspan><tspan x="63.675293" y="-0.976562" style="font-size: 10px; font-family: 'DejaVu Sans'; fill: #008000"> * nm</tspan><tspan x="92.571289" y="-4.804688" style="font-size: 7px; font-family: 'DejaVu Sans'; fill: #008000">−</tspan><tspan x="100.169434" y="-4.804688" style="font-size: 7px; font-family: 'DejaVu Sans'; fill: #008000">1</tspan><tspan x="104.896484" y="-0.976562" style="font-size: 10px; font-family: 'DejaVu Sans'; fill: #008000">)</tspan></text>
     </g>
    </g>
    <g id="text_49">
     <text style="font-size: 10px; font-family: 'DejaVu Sans', 'Bitstream Vera Sans', 'Computer Modern Sans Serif', 'Lucida Grande', 'Verdana', 'Geneva', 'Lucid', 'Arial', 'Helvetica', 'Avant Garde', sans-serif; text-anchor: start" x="90" y="276.829565" transform="rotate(-0 90 276.829565)">1e−17</text>
    </g>
   </g>
   <g id="line2d_43">
    <path d="M 115.342948 287.463916 L 115.605842 311.387239 L 115.868736 337.676604 L 116.184208 364.32 L 116.552259 380.093619 L 116.92031 395.867239 L 117.34094 406.382985 L 118.129621 416.898731 L 119.444089 424.785541 L 120.495664 428.466052 L 122.073026 431.620776 L 124.176175 433.618768 L 126.805112 433.303295 L 131.01141 432.251721 L 134.691921 433.723925 L 138.372433 434.512606 L 142.578731 433.723925 L 146.78503 432.409457 L 150.465541 431.620776 L 151.839721 431.949826 L 153.721254 432.200697 L 155.445993 432.95331 L 157.013937 434.834843 L 158.425087 434.991638 L 160.30662 436.465505 L 161.71777 436.873171 L 163.756098 437.657143 L 166.578397 437.18676 L 169.087108 438.221603 L 171.439024 437.719861 L 173.634146 438.660627 L 176.61324 437.813937 L 178.808362 438.441115 L 180.84669 437.813937 L 184.139373 438.974216 L 186.491289 438.347038 L 189 439.225087 L 191.665505 438.503833 L 194.017422 439.287805 L 197.310105 438.786063 L 199.505226 439.13101 L 203.581882 439.005575 L 207.344948 439.538676 L 212.989547 439.726829 L 205.2 439.233449 L 212.726132 439.609756 L 227.778397 439.986063 L 250.356794 440.211847 L 280.461324 440.437631 L 310.565854 440.663415 L 331.639024 440.738676 L 334.273171 440.211847 L 336.907317 439.986063 L 355.722648 440.136585 L 378 440.362369 L 415.630662 440.512892 L 453.261324 440.663415 L 483.365854 440.663415 L 513.470383 440.512892 L 536.04878 440.287108 L 550.8 440.136585 L 561.315746 439.928215 L 571.831492 439.244692 L 579.718302 438.876641 L 584.976175 438.193117 L 590.234048 437.66733 L 593.91456 436.089968 L 597.069283 434.512606 L 601.275582 433.461031 L 603.378731 432.146563 L 605.48188 429.517627 L 608.110817 426.100009 L 610.213966 423.733966 L 612.317115 422.156604 L 614.420265 420.316349 L 615.997627 417.950306 L 617.312095 413.744007 L 618.36367 407.960347 L 619.415244 401.125112 L 620.466819 394.289877 L 621.518393 389.032004 L 622.622547 385.982437 " clip-path="url(#p4f93501b39)" style="fill: none; stroke-dasharray: 5.55,2.4; stroke-dashoffset: 0; stroke: #008000; stroke-width: 1.5"/>
   </g>
   <g id="patch_15">
    <path d="M 90 448.56 L 90 279.829565 " style="fill: none; stroke: #000000; stroke-width: 0.8; stroke-linejoin: miter; stroke-linecap: square"/>
   </g>
   <g id="patch_16">
    <path d="M 648 448.56 L 648 279.829565 " style="fill: none; stroke: #000000; stroke-width: 0.8; stroke-linejoin: miter; stroke-linecap: square"/>
   </g>
   <g id="patch_17">
    <path d="M 90 448.56 L 648 448.56 " style="fill: none; stroke: #000000; stroke-width: 0.8; stroke-linejoin: miter; stroke-linecap: square"/>
   </g>
   <g id="patch_18">
    <path d="M 90 279.829565 L 648 279.829565 " style="fill: none; stroke: #000000; stroke-width: 0.8; stroke-linejoin: miter; stroke-linecap: square"/>
   </g>
   <g id="text_50">
    <text style="font-size: 12px; font-family: 'DejaVu Sans', 'Bitstream Vera Sans', 'Computer Modern Sans Serif', 'Lucida Grande', 'Verdana', 'Geneva', 'Lucid', 'Arial', 'Helvetica', 'Avant Garde', sans-serif; text-anchor: middle" x="369" y="273.829565" transform="rotate(-0 369 273.829565)">Calibrated Flux</text>
   </g>
   <g id="legend_3" transform="translate(-0.4800 0)">
    <g id="patch_19">
     <path d="M 558.843750 443.560000 L 641.480000 443.560000 Q 643.480000 443.560000 643.480000 441.560000 L 643.480000 427.603750 Q 643.480000 425.603750 641.480000 425.603750 L 558.843750 425.603750 Q 556.843750 425.603750 556.843750 427.603750 L 556.843750 441.560000 Q 556.843750 443.560000 558.843750 443.560000 z" style="fill: #ffffff; opacity: 0.8; stroke: #cccccc; stroke-linejoin: miter"/>
    </g>
    <g id="line2d_44">
     <path d="M 560.84375 433.702188 L 570.84375 433.702188 L 580.84375 433.702188 " style="fill: none; stroke-dasharray: 5.55,2.4; stroke-dashoffset: 0; stroke: #008000; stroke-width: 1.5"/>
    </g>
    <g id="text_51">
     <text style="font-size: 10px; font-family: 'DejaVu Sans', 'Bitstream Vera Sans', 'Computer Modern Sans Serif', 'Lucida Grande', 'Verdana', 'Geneva', 'Lucid', 'Arial', 'Helvetica', 'Avant Garde', sans-serif; text-anchor: start" x="588.84375" y="437.202188" transform="rotate(-0 588.84375 437.202188)">Flux_Error</text>
    </g>
   </g>
  </g>
  <g id="axes_4">
   <g id="matplotlib.axis_7">
    <g id="ytick_23">
     <g id="line2d_45">
      <g>
       <path d="M 0 0 L 3.5 0 " transform="translate(317.755102 221.52)" style="stroke: #000000; stroke-width: 0.8; stroke: #000000; stroke-width: 0.8"/>
      </g>
     </g>
     <g id="text_52">
      <text style="font-size: 10px; font-family: 'DejaVu Sans', 'Bitstream Vera Sans', 'Computer Modern Sans Serif', 'Lucida Grande', 'Verdana', 'Geneva', 'Lucid', 'Arial', 'Helvetica', 'Avant Garde', sans-serif; text-anchor: start; fill: #0000ff" x="324.755102" y="224.791219" transform="rotate(-0 324.755102 224.791219)">0</text>
     </g>
    </g>
    <g id="ytick_24">
     <g id="line2d_46">
      <g>
       <path d="M 0 0 L 3.5 0 " transform="translate(317.755102 193.5504)" style="stroke: #000000; stroke-width: 0.8; stroke: #000000; stroke-width: 0.8"/>
      </g>
     </g>
     <g id="text_53">
      <text style="font-size: 10px; font-family: 'DejaVu Sans', 'Bitstream Vera Sans', 'Computer Modern Sans Serif', 'Lucida Grande', 'Verdana', 'Geneva', 'Lucid', 'Arial', 'Helvetica', 'Avant Garde', sans-serif; text-anchor: start; fill: #0000ff" x="324.755102" y="196.821619" transform="rotate(-0 324.755102 196.821619)">20</text>
     </g>
    </g>
    <g id="ytick_25">
     <g id="line2d_47">
      <g>
       <path d="M 0 0 L 3.5 0 " transform="translate(317.755102 165.5808)" style="stroke: #000000; stroke-width: 0.8; stroke: #000000; stroke-width: 0.8"/>
      </g>
     </g>
     <g id="text_54">
      <text style="font-size: 10px; font-family: 'DejaVu Sans', 'Bitstream Vera Sans', 'Computer Modern Sans Serif', 'Lucida Grande', 'Verdana', 'Geneva', 'Lucid', 'Arial', 'Helvetica', 'Avant Garde', sans-serif; text-anchor: start; fill: #0000ff" x="324.755102" y="168.852019" transform="rotate(-0 324.755102 168.852019)">40</text>
     </g>
    </g>
    <g id="ytick_26">
     <g id="line2d_48">
      <g>
       <path d="M 0 0 L 3.5 0 " transform="translate(317.755102 137.6112)" style="stroke: #000000; stroke-width: 0.8; stroke: #000000; stroke-width: 0.8"/>
      </g>
     </g>
     <g id="text_55">
      <text style="font-size: 10px; font-family: 'DejaVu Sans', 'Bitstream Vera Sans', 'Computer Modern Sans Serif', 'Lucida Grande', 'Verdana', 'Geneva', 'Lucid', 'Arial', 'Helvetica', 'Avant Garde', sans-serif; text-anchor: start; fill: #0000ff" x="324.755102" y="140.882419" transform="rotate(-0 324.755102 140.882419)">60</text>
     </g>
    </g>
    <g id="ytick_27">
     <g id="line2d_49">
      <g>
       <path d="M 0 0 L 3.5 0 " transform="translate(317.755102 109.6416)" style="stroke: #000000; stroke-width: 0.8; stroke: #000000; stroke-width: 0.8"/>
      </g>
     </g>
     <g id="text_56">
      <text style="font-size: 10px; font-family: 'DejaVu Sans', 'Bitstream Vera Sans', 'Computer Modern Sans Serif', 'Lucida Grande', 'Verdana', 'Geneva', 'Lucid', 'Arial', 'Helvetica', 'Avant Garde', sans-serif; text-anchor: start; fill: #0000ff" x="324.755102" y="112.912819" transform="rotate(-0 324.755102 112.912819)">80</text>
     </g>
    </g>
    <g id="ytick_28">
     <g id="line2d_50">
      <g>
       <path d="M 0 0 L 3.5 0 " transform="translate(317.755102 81.672)" style="stroke: #000000; stroke-width: 0.8; stroke: #000000; stroke-width: 0.8"/>
      </g>
     </g>
     <g id="text_57">
      <text style="font-size: 10px; font-family: 'DejaVu Sans', 'Bitstream Vera Sans', 'Computer Modern Sans Serif', 'Lucida Grande', 'Verdana', 'Geneva', 'Lucid', 'Arial', 'Helvetica', 'Avant Garde', sans-serif; text-anchor: start; fill: #0000ff" x="324.755102" y="84.943219" transform="rotate(-0 324.755102 84.943219)">100</text>
     </g>
    </g>
    <g id="text_58">
     <text style="font-size: 10px; font-family: 'DejaVu Sans', 'Bitstream Vera Sans', 'Computer Modern Sans Serif', 'Lucida Grande', 'Verdana', 'Geneva', 'Lucid', 'Arial', 'Helvetica', 'Avant Garde', sans-serif; text-anchor: middle; fill: #0000ff" x="355.20104" y="145.205217" transform="rotate(-90 355.20104 145.205217)">Flux (e-/s)</text>
    </g>
   </g>
   <g id="line2d_51">
    <path d="M 100.305431 221.356896 L 116.289366 221.19916 L 119.444089 221.041424 L 121.547239 220.77853 L 124.176175 220.147586 L 126.279325 219.621798 L 127.856686 219.516641 L 129.434048 219.884692 L 131.537198 220.673373 L 133.11456 221.041424 L 134.691921 220.936267 L 137.320858 219.884692 L 138.89822 219.621798 L 141.527157 219.726956 L 144.68188 219.096011 L 147.836604 219.096011 L 150.991328 217.781543 L 153.620265 217.098019 L 154.934733 215.4155 L 156.249201 212.786563 L 157.826563 208.054477 L 158.878138 203.848179 L 159.666819 198.590306 L 160.192606 193.332433 L 160.718393 187.022985 L 161.086445 176.507239 L 161.612232 165.991492 L 162.032862 155.475746 L 162.558649 144.96 L 163.610224 113.058731 L 164.924692 81.511492 L 165.713373 73.624683 L 166.502054 67.841022 L 168.342309 68.36681 L 169.656778 71.25864 L 170.971246 73.098895 L 172.022821 75.990726 L 173.074395 81.511492 L 174.651757 90.975664 L 176.229119 98.862474 L 178.858056 108.852433 L 180.435418 118.316604 L 182.275673 129.883925 L 185.167503 136.193373 L 187.270653 144.974021 L 187.533546 147.063149 L 188.848015 150.74366 L 191.476951 156.001534 L 193.054313 160.207832 L 194.631675 163.888343 L 196.209037 166.51728 L 198.312186 169.672004 L 199.889548 173.352515 L 200.941123 177.033026 L 201.992697 181.765112 L 203.044272 185.97141 L 204.621634 189.651921 L 205.2 190.177709 L 205.988681 192.280858 L 207.303149 194.384007 L 209.669192 195.961369 L 210.98366 198.064518 L 212.561022 201.219242 L 213.875491 203.322392 L 215.189959 204.899754 L 216.504427 207.52869 L 217.556002 210.157627 L 218.87047 212.52367 L 220.447832 214.363925 L 222.025194 215.678393 L 223.339662 216.204181 L 225.179918 216.361917 L 227.808854 216.992862 L 230.437791 216.729968 L 232.015153 217.413492 L 233.855408 218.465066 L 234.644089 218.570224 L 237.010132 217.939279 L 238.324601 218.149594 L 240.953537 219.306326 L 242.005112 219.358905 L 244.371155 218.990853 L 245.685623 219.516641 L 247.788772 220.568215 L 248.840347 220.568215 L 251.20639 219.096011 L 252.783752 219.201168 L 254.624007 220.410479 L 256.464263 221.462054 L 258.041625 221.567211 L 260.407668 220.936267 L 262.510817 220.410479 L 264.613966 220.515637 L 267.76869 220.936267 L 272.500776 220.673373 L 278.810224 220.936267 L 286.697033 221.304318 L 294.583843 221.409475 L 307.360475 221.409475 " clip-path="url(#p5c37833ab2)" style="fill: none; stroke: #0000ff; stroke-width: 1.5; stroke-linecap: square"/>
   </g>
   <g id="patch_20">
    <path d="M 90 229.210435 L 90 60.48 " style="fill: none; stroke: #000000; stroke-width: 0.8; stroke-linejoin: miter; stroke-linecap: square"/>
   </g>
   <g id="patch_21">
    <path d="M 317.755102 229.210435 L 317.755102 60.48 " style="fill: none; stroke: #000000; stroke-width: 0.8; stroke-linejoin: miter; stroke-linecap: square"/>
   </g>
   <g id="patch_22">
    <path d="M 90 229.210435 L 317.755102 229.210435 " style="fill: none; stroke: #000000; stroke-width: 0.8; stroke-linejoin: miter; stroke-linecap: square"/>
   </g>
   <g id="patch_23">
    <path d="M 90 60.48 L 317.755102 60.48 " style="fill: none; stroke: #000000; stroke-width: 0.8; stroke-linejoin: miter; stroke-linecap: square"/>
   </g>
   <g id="legend_4" transform="translate(-0.1440 0)">
    <g id="patch_24">
     <path d="M 265.864477 83.158125 L 310.899102 83.158125 Q 312.899102 83.158125 312.899102 81.158125 L 312.899102 67.480000 Q 312.899102 65.480000 310.899102 65.480000 L 265.864477 65.480000 Q 263.864477 65.480000 263.864477 67.480000 L 263.864477 81.158125 Q 263.864477 83.158125 265.864477 83.158125 z" style="fill: #ffffff; opacity: 0.8; stroke: #cccccc; stroke-linejoin: miter"/>
    </g>
    <g id="line2d_52">
     <path d="M 267.864477 73.578438 L 277.864477 73.578438 L 287.864477 73.578438 " style="fill: none; stroke: #0000ff; stroke-width: 1.5; stroke-linecap: square"/>
    </g>
    <g id="text_59">
     <text style="font-size: 10px; font-family: 'DejaVu Sans', 'Bitstream Vera Sans', 'Computer Modern Sans Serif', 'Lucida Grande', 'Verdana', 'Geneva', 'Lucid', 'Arial', 'Helvetica', 'Avant Garde', sans-serif; text-anchor: start" x="295.864477" y="77.078438" transform="rotate(-0 295.864477 77.078438)">BP</text>
    </g>
   </g>
  </g>
  <g id="axes_5">
   <g id="matplotlib.axis_8">
    <g id="ytick_29">
     <g id="line2d_53">
      <g>
       <path d="M 0 0 L 3.5 0 " transform="translate(648 221.472)" style="stroke: #000000; stroke-width: 0.8; stroke: #000000; stroke-width: 0.8"/>
      </g>
     </g>
     <g id="text_60">
      <text style="font-size: 10px; font-family: 'DejaVu Sans', 'Bitstream Vera Sans', 'Computer Modern Sans Serif', 'Lucida Grande', 'Verdana', 'Geneva', 'Lucid', 'Arial', 'Helvetica', 'Avant Garde', sans-serif; text-anchor: start; fill: #ff0000" x="655" y="224.743219" transform="rotate(-0 655 224.743219)">0</text>
     </g>
    </g>
    <g id="ytick_30">
     <g id="line2d_54">
      <g>
       <path d="M 0 0 L 3.5 0 " transform="translate(648 182.784)" style="stroke: #000000; stroke-width: 0.8; stroke: #000000; stroke-width: 0.8"/>
      </g>
     </g>
     <g id="text_61">
      <text style="font-size: 10px; font-family: 'DejaVu Sans', 'Bitstream Vera Sans', 'Computer Modern Sans Serif', 'Lucida Grande', 'Verdana', 'Geneva', 'Lucid', 'Arial', 'Helvetica', 'Avant Garde', sans-serif; text-anchor: start; fill: #ff0000" x="655" y="186.055219" transform="rotate(-0 655 186.055219)">20</text>
     </g>
    </g>
    <g id="ytick_31">
     <g id="line2d_55">
      <g>
       <path d="M 0 0 L 3.5 0 " transform="translate(648 144.096)" style="stroke: #000000; stroke-width: 0.8; stroke: #000000; stroke-width: 0.8"/>
      </g>
     </g>
     <g id="text_62">
      <text style="font-size: 10px; font-family: 'DejaVu Sans', 'Bitstream Vera Sans', 'Computer Modern Sans Serif', 'Lucida Grande', 'Verdana', 'Geneva', 'Lucid', 'Arial', 'Helvetica', 'Avant Garde', sans-serif; text-anchor: start; fill: #ff0000" x="655" y="147.367219" transform="rotate(-0 655 147.367219)">40</text>
     </g>
    </g>
    <g id="ytick_32">
     <g id="line2d_56">
      <g>
       <path d="M 0 0 L 3.5 0 " transform="translate(648 105.408)" style="stroke: #000000; stroke-width: 0.8; stroke: #000000; stroke-width: 0.8"/>
      </g>
     </g>
     <g id="text_63">
      <text style="font-size: 10px; font-family: 'DejaVu Sans', 'Bitstream Vera Sans', 'Computer Modern Sans Serif', 'Lucida Grande', 'Verdana', 'Geneva', 'Lucid', 'Arial', 'Helvetica', 'Avant Garde', sans-serif; text-anchor: start; fill: #ff0000" x="655" y="108.679219" transform="rotate(-0 655 108.679219)">60</text>
     </g>
    </g>
    <g id="ytick_33">
     <g id="line2d_57">
      <g>
       <path d="M 0 0 L 3.5 0 " transform="translate(648 66.72)" style="stroke: #000000; stroke-width: 0.8; stroke: #000000; stroke-width: 0.8"/>
      </g>
     </g>
     <g id="text_64">
      <text style="font-size: 10px; font-family: 'DejaVu Sans', 'Bitstream Vera Sans', 'Computer Modern Sans Serif', 'Lucida Grande', 'Verdana', 'Geneva', 'Lucid', 'Arial', 'Helvetica', 'Avant Garde', sans-serif; text-anchor: start; fill: #ff0000" x="655" y="69.991219" transform="rotate(-0 655 69.991219)">80</text>
     </g>
    </g>
    <g id="text_65">
     <text style="font-size: 10px; font-family: 'DejaVu Sans', 'Bitstream Vera Sans', 'Computer Modern Sans Serif', 'Lucida Grande', 'Verdana', 'Geneva', 'Lucid', 'Arial', 'Helvetica', 'Avant Garde', sans-serif; text-anchor: middle; fill: #ff0000" x="679.083437" y="145.205217" transform="rotate(-90 679.083437 145.205217)">Flux (e-/s)</text>
    </g>
   </g>
   <g id="line2d_58">
    <path d="M 430.545431 221.462054 L 446.529366 221.304318 L 449.684089 221.094003 L 452.838813 220.673373 L 455.993537 219.884692 L 458.096686 219.621798 L 459.674048 219.726956 L 461.777198 220.410479 L 463.35456 220.673373 L 464.931921 220.252743 L 467.035071 218.833117 L 468.612433 218.30733 L 470.715582 218.570224 L 472.292944 218.570224 L 473.344518 218.044436 L 474.92188 216.467074 L 476.499242 214.363925 L 478.602392 212.260776 L 479.91686 210.42052 L 481.231328 207.52869 L 482.282903 203.848179 L 483.334477 199.116093 L 484.386052 192.280858 L 485.174733 185.97141 L 485.963414 176.507239 L 486.909831 165.991492 L 487.80367 158.104683 L 488.592351 151.795235 L 489.381031 147.063149 L 489.643925 144.974021 L 490.432606 139.348097 L 491.484181 135.141798 L 492.798649 131.987074 L 494.376011 129.358138 L 497.004948 126.992095 L 498.056522 124.626052 L 499.108097 120.945541 L 500.685459 115.687668 L 502.262821 113.058731 L 504.628864 110.955582 L 505.943332 107.800858 L 507.520694 104.120347 L 508.835162 102.280091 L 511.201205 100.702729 L 512.778567 97.810899 L 514.881716 94.130388 L 517.510653 90.186983 L 519.613802 87.295153 L 521.716951 84.92911 L 524.608781 82.300173 L 525.92325 79.934131 L 527.237718 76.779407 L 528.289293 74.413364 L 529.603761 73.098895 L 532.232697 73.204053 L 534.072953 72.047321 L 535.44 71.25864 L 538.068937 70.207065 L 540.172086 68.892597 L 542.801022 68.261652 L 544.904172 68.471967 L 546.21864 69.418384 L 547.270215 71.25864 L 548.584683 73.361789 L 550.162045 75.202045 L 551.739407 76.779407 L 553.053875 79.408343 L 554.368343 83.088854 L 555.682812 86.769366 L 556.99728 89.398302 L 558.574642 92.027239 L 559.88911 95.70775 L 560.940685 100.439836 L 561.992259 106.749283 L 563.043834 113.058731 L 564.358302 118.842392 L 565.935664 123.574477 L 567.250132 128.832351 L 568.301707 134.090224 L 569.353282 140.399671 L 569.879069 144.96 L 570.66775 150.217873 L 571.719325 155.475746 L 573.033793 160.733619 L 574.874048 167.568854 L 576.714304 174.404089 L 578.291666 181.765112 L 579.869028 189.126134 L 581.44639 195.435582 L 583.023752 200.693455 L 584.601114 204.899754 L 586.441369 208.580265 L 589.070306 211.997882 L 592.22503 214.889712 L 595.905541 216.992862 L 599.586052 218.570224 L 603.266563 219.516641 L 607.998649 219.726956 L 610.101798 220.042428 L 613.782309 220.831109 L 617.462821 221.304318 L 624.823843 221.462054 L 637.600475 221.462054 " clip-path="url(#p409623901d)" style="fill: none; stroke: #ff0000; stroke-width: 1.5; stroke-linecap: square"/>
   </g>
   <g id="patch_25">
    <path d="M 420.244898 229.210435 L 420.244898 60.48 " style="fill: none; stroke: #000000; stroke-width: 0.8; stroke-linejoin: miter; stroke-linecap: square"/>
   </g>
   <g id="patch_26">
    <path d="M 648 229.210435 L 648 60.48 " style="fill: none; stroke: #000000; stroke-width: 0.8; stroke-linejoin: miter; stroke-linecap: square"/>
   </g>
   <g id="patch_27">
    <path d="M 420.244898 229.210435 L 648 229.210435 " style="fill: none; stroke: #000000; stroke-width: 0.8; stroke-linejoin: miter; stroke-linecap: square"/>
   </g>
   <g id="patch_28">
    <path d="M 420.244898 60.48 L 648 60.48 " style="fill: none; stroke: #000000; stroke-width: 0.8; stroke-linejoin: miter; stroke-linecap: square"/>
   </g>
   <g id="legend_5">
    <g id="patch_29">
     <path d="M 596.021875 83.158125 L 641 83.158125 Q 643 83.158125 643 81.158125 L 643 67.48 Q 643 65.48 641 65.48 L 596.021875 65.48 Q 594.021875 65.48 594.021875 67.48 L 594.021875 81.158125 Q 594.021875 83.158125 596.021875 83.158125 
z " style="fill: #ffffff; opacity: 0.8; stroke: #cccccc; stroke-linejoin: miter"/>
    </g>
    <g id="line2d_59">
     <path d="M 598.021875 73.578438 L 608.021875 73.578438 L 618.021875 73.578438 " style="fill: none; stroke: #ff0000; stroke-width: 1.5; stroke-linecap: square"/>
    </g>
    <g id="text_66">
     <text style="font-size: 10px; font-family: 'DejaVu Sans', 'Bitstream Vera Sans', 'Computer Modern Sans Serif', 'Lucida Grande', 'Verdana', 'Geneva', 'Lucid', 'Arial', 'Helvetica', 'Avant Garde', sans-serif; text-anchor: start" x="626.021875" y="77.078438" transform="rotate(-0 626.021875 77.078438)">RP</text>
    </g>
   </g>
  </g>
  <g id="axes_6">
   <g id="matplotlib.axis_9">
    <g id="ytick_34">
     <g id="line2d_60">
      <g>
       <path d="M 0 0 L 3.5 0 " transform="translate(648 432.36)" style="stroke: #000000; stroke-width: 0.8; stroke: #000000; stroke-width: 0.8"/>
      </g>
     </g>
     <g id="text_67">
      <text style="font-size: 10px; font-family: 'DejaVu Sans', 'Bitstream Vera Sans', 'Computer Modern Sans Serif', 'Lucida Grande', 'Verdana', 'Geneva', 'Lucid', 'Arial', 'Helvetica', 'Avant Garde', sans-serif; text-anchor: start" x="655" y="435.631219" transform="rotate(-0 655 435.631219)">−0.75</text>
     </g>
    </g>
    <g id="ytick_35">
     <g id="line2d_61">
      <g>
       <path d="M 0 0 L 3.5 0 " transform="translate(648 408.632)" style="stroke: #000000; stroke-width: 0.8; stroke: #000000; stroke-width: 0.8"/>
      </g>
     </g>
     <g id="text_68">
      <text style="font-size: 10px; font-family: 'DejaVu Sans', 'Bitstream Vera Sans', 'Computer Modern Sans Serif', 'Lucida Grande', 'Verdana', 'Geneva', 'Lucid', 'Arial', 'Helvetica', 'Avant Garde', sans-serif; text-anchor: start" x="655" y="411.903219" transform="rotate(-0 655 411.903219)">−0.50</text>
     </g>
    </g>
    <g id="ytick_36">
     <g id="line2d_62">
      <g>
       <path d="M 0 0 L 3.5 0 " transform="translate(648 384.904)" style="stroke: #000000; stroke-width: 0.8; stroke: #000000; stroke-width: 0.8"/>
      </g>
     </g>
     <g id="text_69">
      <text style="font-size: 10px; font-family: 'DejaVu Sans', 'Bitstream Vera Sans', 'Computer Modern Sans Serif', 'Lucida Grande', 'Verdana', 'Geneva', 'Lucid', 'Arial', 'Helvetica', 'Avant Garde', sans-serif; text-anchor: start" x="655" y="388.175219" transform="rotate(-0 655 388.175219)">−0.25</text>
     </g>
    </g>
    <g id="ytick_37">
     <g id="line2d_63">
      <g>
       <path d="M 0 0 L 3.5 0 " transform="translate(648 361.176)" style="stroke: #000000; stroke-width: 0.8; stroke: #000000; stroke-width: 0.8"/>
      </g>
     </g>
     <g id="text_70">
      <text style="font-size: 10px; font-family: 'DejaVu Sans', 'Bitstream Vera Sans', 'Computer Modern Sans Serif', 'Lucida Grande', 'Verdana', 'Geneva', 'Lucid', 'Arial', 'Helvetica', 'Avant Garde', sans-serif; text-anchor: start" x="655" y="364.447219" transform="rotate(-0 655 364.447219)">0.00</text>
     </g>
    </g>
    <g id="ytick_38">
     <g id="line2d_64">
      <g>
       <path d="M 0 0 L 3.5 0 " transform="translate(648 337.448)" style="stroke: #000000; stroke-width: 0.8; stroke: #000000; stroke-width: 0.8"/>
      </g>
     </g>
     <g id="text_71">
      <text style="font-size: 10px; font-family: 'DejaVu Sans', 'Bitstream Vera Sans', 'Computer Modern Sans Serif', 'Lucida Grande', 'Verdana', 'Geneva', 'Lucid', 'Arial', 'Helvetica', 'Avant Garde', sans-serif; text-anchor: start" x="655" y="340.719219" transform="rotate(-0 655 340.719219)">0.25</text>
     </g>
    </g>
    <g id="ytick_39">
     <g id="line2d_65">
      <g>
       <path d="M 0 0 L 3.5 0 " transform="translate(648 313.72)" style="stroke: #000000; stroke-width: 0.8; stroke: #000000; stroke-width: 0.8"/>
      </g>
     </g>
     <g id="text_72">
      <text style="font-size: 10px; font-family: 'DejaVu Sans', 'Bitstream Vera Sans', 'Computer Modern Sans Serif', 'Lucida Grande', 'Verdana', 'Geneva', 'Lucid', 'Arial', 'Helvetica', 'Avant Garde', sans-serif; text-anchor: start" x="655" y="316.991219" transform="rotate(-0 655 316.991219)">0.50</text>
     </g>
    </g>
    <g id="ytick_40">
     <g id="line2d_66">
      <g>
       <path d="M 0 0 L 3.5 0 " transform="translate(648 289.992)" style="stroke: #000000; stroke-width: 0.8; stroke: #000000; stroke-width: 0.8"/>
      </g>
     </g>
     <g id="text_73">
      <text style="font-size: 10px; font-family: 'DejaVu Sans', 'Bitstream Vera Sans', 'Computer Modern Sans Serif', 'Lucida Grande', 'Verdana', 'Geneva', 'Lucid', 'Arial', 'Helvetica', 'Avant Garde', sans-serif; text-anchor: start" x="655" y="293.263219" transform="rotate(-0 655 293.263219)">0.75</text>
     </g>
    </g>
    <g id="text_74">
     <g transform="translate(698.953625 418.594783) rotate(-90)">
      <text style="white-space: pre; font-kerning: none"><tspan x="0" y="-0.976562" style="font-size: 10px; font-family: 'DejaVu Sans'">Flux (W * m</tspan><tspan x="58.948242" y="-4.804688" style="font-size: 7px; font-family: 'DejaVu Sans'">2</tspan><tspan x="63.675293" y="-0.976562" style="font-size: 10px; font-family: 'DejaVu Sans'"> * nm</tspan><tspan x="92.571289" y="-4.804688" style="font-size: 7px; font-family: 'DejaVu Sans'">−</tspan><tspan x="100.169434" y="-4.804688" style="font-size: 7px; font-family: 'DejaVu Sans'">1</tspan><tspan x="104.896484" y="-0.976562" style="font-size: 10px; font-family: 'DejaVu Sans'">)</tspan></text>
     </g>
    </g>
    <g id="text_75">
     <text style="font-size: 10px; font-family: 'DejaVu Sans', 'Bitstream Vera Sans', 'Computer Modern Sans Serif', 'Lucida Grande', 'Verdana', 'Geneva', 'Lucid', 'Arial', 'Helvetica', 'Avant Garde', sans-serif; text-anchor: end" x="648" y="276.829565" transform="rotate(-0 648 276.829565)">1e−17</text>
    </g>
   </g>
   <g id="line2d_67">
    <path d="M 115.342948 407.697453 L 116.815153 441.295262 L 118.1822 414.743003 L 119.8622 358.194875 L 120.3422 344.669162 L 121.0622 321.01305 L 121.5422 311.364194 L 121.7822 309.309821 L 122.0222 309.841433 L 122.2622 311.707161 L 122.7422 318.652561 L 123.4622 334.325004 L 124.6622 362.099474 L 125.1422 369.462818 L 125.3822 371.60021 L 125.6222 372.460925 L 125.8622 372.132306 L 126.1022 371.016567 L 126.5822 366.882267 L 127.3022 357.603943 L 128.5022 341.402527 L 128.9822 337.277429 L 129.2222 336.167671 L 129.4622 335.84058 L 129.7022 336.203011 L 129.9422 337.091041 L 130.4222 340.111834 L 131.3822 348.807935 L 132.1022 355.037734 L 132.5822 357.806527 L 132.8222 358.526556 L 133.0622 358.697258 L 133.3022 358.387219 L 133.7822 356.64657 L 134.2622 353.747027 L 135.2222 346.080213 L 136.1822 338.604697 L 136.6622 335.944276 L 137.1422 334.538399 L 137.3822 334.438583 L 137.6222 334.922638 L 138.1022 337.527169 L 138.8222 344.290264 L 140.5022 361.875831 L 140.9822 364.401013 L 141.2222 364.835475 L 141.4622 364.555115 L 141.7022 363.482622 L 142.1822 359.381686 L 142.9022 349.954927 L 144.3422 329.966009 L 144.8222 326.123917 L 145.0622 325.216144 L 145.3022 325.126495 L 145.5422 325.879896 L 146.0222 329.466721 L 146.7422 338.22927 L 147.9422 353.774147 L 148.4222 357.493715 L 148.6622 358.333398 L 148.9022 358.335089 L 149.1422 357.493749 L 149.6222 353.783246 L 150.3422 345.105071 L 151.3022 333.2043 L 151.7822 329.461104 L 152.0222 328.597968 L 152.2622 328.569219 L 152.5022 329.340757 L 152.9822 332.850116 L 153.7022 341.44093 L 155.1422 360.111992 L 155.6222 363.669747 L 155.8622 364.472082 L 156.1022 364.509134 L 156.3422 363.918203 L 156.8222 361.256903 L 157.5422 354.830508 L 158.7422 343.246438 L 159.2222 340.273572 L 159.4622 339.480124 L 159.7022 339.258456 L 159.9422 339.514056 L 160.4222 341.031868 L 161.1422 345.011622 L 162.5822 353.733016 L 163.0622 355.27506 L 163.3022 355.546081 L 163.5422 355.420087 L 163.7822 354.91144 L 164.2622 352.905483 L 164.9822 348.023288 L 167.6222 327.272579 L 168.1022 325.784596 L 168.3422 325.583496 L 168.5822 325.757474 L 168.8222 326.252895 L 169.3022 328.04699 L 170.0222 332.142259 L 171.7022 342.613019 L 172.1822 344.390353 L 172.4222 344.875297 L 172.6622 345.03745 L 172.9022 344.889057 L 173.1422 344.482175 L 173.6222 343.002003 L 174.3422 339.524699 L 176.7422 325.900462 L 177.2222 324.436156 L 177.4622 324.038794 L 177.7022 323.900978 L 177.9422 324.017346 L 178.1822 324.350498 L 178.6622 325.581885 L 179.3822 328.521911 L 180.5822 334.915312 L 181.7822 340.866018 L 182.2622 342.525457 L 182.7422 343.517176 L 182.9822 343.709346 L 183.2222 343.688359 L 183.4622 343.509092 L 183.9422 342.749184 L 184.6622 340.835406 L 185.8622 336.602086 L 186.8222 333.377801 L 187.5422 331.696957 L 188.0222 331.157043 L 188.2622 331.106449 L 188.7422 331.379931 L 189.2222 332.039557 L 189.9422 333.529585 L 191.8622 338.005373 L 192.3422 338.685227 L 192.8222 338.985159 L 193.0622 338.962921 L 193.5422 338.582036 L 194.0222 337.804708 L 194.7422 336.031366 L 195.7022 332.859549 L 198.5822 322.532315 L 199.3022 320.867528 L 199.7822 320.181615 L 200.2622 319.907381 L 200.7422 319.999804 L 201.2222 320.304669 L 201.9422 321.075043 L 202.9022 322.487209 L 204.8222 325.490537 L 205.5422 326.242006 L 206.2622 326.633308 L 206.7422 326.671713 L 207.4622 326.502332 L 208.6622 325.932151 L 210.1022 325.198124 L 210.8222 325.069597 L 211.5422 325.170174 L 212.2622 325.471186 L 213.4622 326.264382 L 215.3822 327.556743 L 216.3422 327.898179 L 217.0622 327.923664 L 217.7822 327.730588 L 218.5022 327.331624 L 219.4622 326.529269 L 220.9022 324.95508 L 222.3422 323.447201 L 223.0622 322.942421 L 223.7822 322.716124 L 224.5022 322.814299 L 225.2222 323.226476 L 225.9422 323.899756 L 227.1422 325.416156 L 229.7822 329.025681 L 230.7422 329.923154 L 231.4622 330.317201 L 232.1822 330.42876 L 232.9022 330.239088 L 233.6222 329.757764 L 234.3422 329.016797 L 235.3022 327.703383 L 236.9822 324.905745 L 238.6622 322.197325 L 239.6222 320.990654 L 240.5822 320.171578 L 241.3022 319.846448 L 242.0222 319.776513 L 242.7422 319.95846 L 243.4622 320.38218 L 244.4222 321.290765 L 245.6222 322.855449 L 249.2222 327.971885 L 250.1822 328.902136 L 251.1422 329.492606 L 251.8622 329.681907 L 252.5822 329.639675 L 253.3022 329.373255 L 254.2622 328.724688 L 255.4622 327.587819 L 257.3822 325.389997 L 260.5022 321.785478 L 261.7022 320.710111 L 262.9022 319.909684 L 264.1022 319.348623 L 265.3022 319.022524 L 266.2622 318.964292 L 267.4622 319.147235 L 268.9022 319.64359 L 271.3022 320.774256 L 273.7022 321.836778 L 275.3822 322.344364 L 276.8222 322.542706 L 278.2622 322.484711 L 279.7022 322.193263 L 281.3822 321.628842 L 283.0622 320.837229 L 284.9822 319.647818 L 288.1022 317.669771 L 289.5422 317.015965 L 290.7422 316.681663 L 291.9422 316.593742 L 293.1422 316.757139 L 294.8222 317.267595 L 300.8222 319.367039 L 302.7422 319.710015 L 304.6622 319.825305 L 312.5822 320.029355 L 320.0222 320.583502 L 322.4222 320.451109 L 325.0622 320.084677 L 329.8622 319.309515 L 330.8222 319.488644 L 332.0222 319.953552 L 336.1022 321.818262 L 337.0622 321.928955 L 338.0222 321.782256 L 339.4622 321.233391 L 340.1822 321.035198 L 340.9022 321.085576 L 341.6222 321.47051 L 342.3422 322.175204 L 343.7822 324.077393 L 344.7422 325.174655 L 345.4622 325.66282 L 345.9422 325.772005 L 346.4222 325.680254 L 346.9022 325.369132 L 347.3822 324.829201 L 348.1022 323.613485 L 349.3022 320.911838 L 350.5022 318.383163 L 351.2222 317.355662 L 351.7022 316.944253 L 352.1822 316.769072 L 352.6622 316.837625 L 353.1422 317.153195 L 353.6222 317.711413 L 354.3422 318.953149 L 355.7822 322.190565 L 356.7422 324.106936 L 357.4622 325.051899 L 357.9422 325.380687 L 358.4222 325.458089 L 358.9022 325.289307 L 359.3822 324.886655 L 360.1022 323.89729 L 361.3022 321.648028 L 362.5022 319.561035 L 363.2222 318.66438 L 363.9422 318.105944 L 364.4222 317.964894 L 364.9022 318.036035 L 365.3822 318.320052 L 366.1022 319.08969 L 367.3022 320.912143 L 368.7422 323.032304 L 369.4622 323.760623 L 370.1822 324.180088 L 370.9022 324.29678 L 371.6222 324.160422 L 372.5822 323.700827 L 375.7022 321.87642 L 376.4222 321.738598 L 377.1422 321.778398 L 378.1022 322.054686 L 380.7422 322.990789 L 381.9422 323.134826 L 383.1422 323.059246 L 385.5422 322.589162 L 386.9822 322.419627 L 388.1822 322.483112 L 389.8622 322.814143 L 392.2622 323.290428 L 393.7022 323.345768 L 396.8222 323.340395 L 398.0222 323.645744 L 399.4622 324.273645 L 403.0622 326.041467 L 404.0222 326.268279 L 404.9822 326.287694 L 405.9422 326.083765 L 407.1422 325.546876 L 408.5822 324.610845 L 410.9822 323.013547 L 412.1822 322.526088 L 413.1422 322.403558 L 414.1022 322.549088 L 415.0622 322.925201 L 416.5022 323.758218 L 420.5822 326.292393 L 421.7822 326.726092 L 422.7422 326.866109 L 423.9422 326.780885 L 425.3822 326.417224 L 429.9422 325.06986 L 431.1422 325.004553 L 432.3422 325.174342 L 433.7822 325.623496 L 437.8622 327.101324 L 439.0622 327.233051 L 440.2622 327.143297 L 441.9422 326.769225 L 444.8222 326.10107 L 446.0222 326.042135 L 447.2222 326.196713 L 448.6622 326.620113 L 453.4622 328.274157 L 454.6622 328.352345 L 455.8622 328.222206 L 457.5422 327.789783 L 460.4222 327.021371 L 461.6222 326.933542 L 462.8222 327.086367 L 464.0222 327.481279 L 465.4622 328.209699 L 468.8222 330.043867 L 470.0222 330.366786 L 471.2222 330.456155 L 472.6622 330.312753 L 474.3422 329.897375 L 479.3822 328.419947 L 480.8222 328.352927 L 482.2622 328.544225 L 484.1822 329.077264 L 488.2622 330.533393 L 490.1822 331.11157 L 491.6222 331.323356 L 493.3022 331.328985 L 495.2222 331.123922 L 497.1422 330.715797 L 499.3022 330.036066 L 503.1422 328.532739 L 505.5422 327.699771 L 507.2222 327.320823 L 508.6622 327.190814 L 510.1022 327.293196 L 511.3022 327.614823 L 512.5022 328.196875 L 513.9422 329.199956 L 516.8222 331.614423 L 518.7422 333.067367 L 520.1822 333.871197 L 521.3822 334.271683 L 522.3422 334.383542 L 523.3022 334.298191 L 524.5022 333.930708 L 525.7022 333.326749 L 527.1422 332.357754 L 528.8222 330.93691 L 531.9422 328.17833 L 533.1422 327.487258 L 534.3422 327.072633 L 535.3022 326.935808 L 536.2622 327.009723 L 537.2222 327.335343 L 538.1822 327.904341 L 539.3822 328.884705 L 540.8222 330.346093 L 543.2222 333.162876 L 545.3822 335.565646 L 546.5822 336.592948 L 547.7822 337.303337 L 548.9822 337.727609 L 550.1822 337.901562 L 551.3822 337.815126 L 552.5822 337.480524 L 554.0222 336.824107 L 555.7022 335.801699 L 560.7422 332.4392 L 562.1822 331.87086 L 563.6222 331.519416 L 565.0622 331.382421 L 566.5022 331.454367 L 568.1822 331.758344 L 570.5822 332.448241 L 573.9422 333.398084 L 576.8222 333.961347 L 579.7022 334.297225 L 584.5022 334.788267 L 586.6622 335.293897 L 589.0622 336.101094 L 593.8622 337.807769 L 595.7822 338.238193 L 597.7022 338.454926 L 599.1422 338.428565 L 600.3422 338.193924 L 601.7822 337.653664 L 603.2222 336.875204 L 604.4222 335.995908 L 605.6222 334.819759 L 606.8222 333.336265 L 608.2622 331.206179 L 609.7022 328.641204 L 611.1422 325.58143 L 613.3022 320.36747 L 614.9822 315.734552 L 616.4222 311.127215 L 618.1022 304.984153 L 622.727704 287.095865 L 622.727704 287.095865 " clip-path="url(#p4f93501b39)" style="fill: none; stroke: #000000; stroke-width: 1.5; stroke-linecap: square"/>
   </g>
   <g id="patch_30">
    <path d="M 90 448.56 L 90 279.829565 " style="fill: none; stroke: #000000; stroke-width: 0.8; stroke-linejoin: miter; stroke-linecap: square"/>
   </g>
   <g id="patch_31">
    <path d="M 648 448.56 L 648 279.829565 " style="fill: none; stroke: #000000; stroke-width: 0.8; stroke-linejoin: miter; stroke-linecap: square"/>
   </g>
   <g id="patch_32">
    <path d="M 90 448.56 L 648 448.56 " style="fill: none; stroke: #000000; stroke-width: 0.8; stroke-linejoin: miter; stroke-linecap: square"/>
   </g>
   <g id="patch_33">
    <path d="M 90 279.829565 L 648 279.829565 " style="fill: none; stroke: #000000; stroke-width: 0.8; stroke-linejoin: miter; stroke-linecap: square"/>
   </g>
   <g id="legend_6">
    <g id="patch_34">
     <path d="M 97 443.56 L 149.785937 443.56 Q 151.785937 443.56 151.785937 441.56 L 151.785937 427.881875 Q 151.785937 425.881875 149.785937 425.881875 L 97 425.881875 Q 95 425.881875 95 427.881875 L 95 441.56 Q 95 443.56 97 443.56 
z " style="fill: #ffffff; opacity: 0.8; stroke: #cccccc; stroke-linejoin: miter"/>
    </g>
    <g id="line2d_68">
     <path d="M 99 433.980313 L 109 433.980313 L 119 433.980313 " style="fill: none; stroke: #000000; stroke-width: 1.5; stroke-linecap: square"/>
    </g>
    <g id="text_76">
     <text style="font-size: 10px; font-family: 'DejaVu Sans', 'Bitstream Vera Sans', 'Computer Modern Sans Serif', 'Lucida Grande', 'Verdana', 'Geneva', 'Lucid', 'Arial', 'Helvetica', 'Avant Garde', sans-serif; text-anchor: start" x="127" y="437.480313" transform="rotate(-0 127 437.480313)">Flux</text>
    </g>
   </g>
  </g>
 </g>
 <defs>
  <clipPath id="p5c37833ab2">
   <rect x="90" y="60.48" width="227.755102" height="168.730435"/>
  </clipPath>
  <clipPath id="p409623901d">
   <rect x="420.244898" y="60.48" width="227.755102" height="168.730435"/>
  </clipPath>
  <clipPath id="p4f93501b39">
   <rect x="90" y="279.829565" width="558" height="168.730435"/>
  </clipPath>
 </defs>
</svg>

</body></html>
